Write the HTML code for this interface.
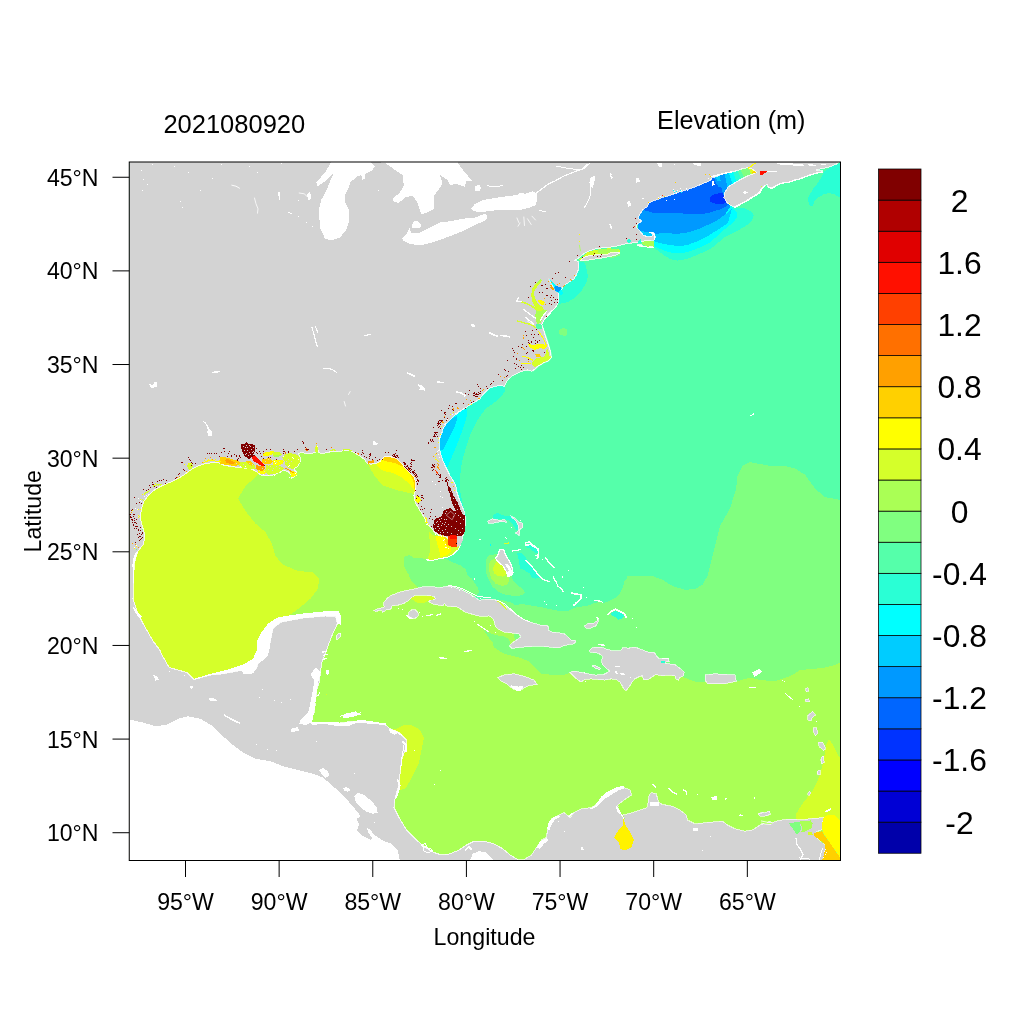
<!DOCTYPE html>
<html><head><meta charset="utf-8"><title>Elevation map</title>
<style>
html,body{margin:0;padding:0;background:#fff;}
body{width:1024px;height:1024px;overflow:hidden;font-family:"Liberation Sans",sans-serif;}
svg{display:block;font-family:"Liberation Sans",sans-serif;}
text{filter:grayscale(1);}
.ax line{stroke:#000;stroke-width:1;}
.ax text{font-size:23.1px;fill:#000;}
</style></head><body>
<svg width="1024" height="1024" viewBox="0 0 1024 1024">
<rect width="1024" height="1024" fill="#fff"/>
<defs>
<clipPath id="plot"><rect x="129.25" y="162" width="711.25" height="698.5"/></clipPath>

</defs>
<g clip-path="url(#plot)" shape-rendering="crispEdges">
<rect x="129" y="162" width="712" height="699" fill="#55FFAA"/>
<path fill="#80FF80" d="M842.5 500.2 825 497.2 815 488.5 805 474.8 795 468.5 785 466 770 466 757.5 463.5 750 462.2 742.5 466 737.5 476 736.2 488.5 730 508.5 720 526 716.2 541 711.2 561 707.5 576 702.5 584.8 695 589 685 589.8 672.5 586 662.5 579.8 652.5 576 627.5 576 627 577.8 624.5 581.5 622.6 587.8 619.5 594 615.8 597.8 609.5 600.9 604.5 602.8 599.5 602.1 594.5 602.8 589.5 605.2 582 606.5 574.5 607.8 567 611.5 559.5 610.9 552 609.6 544.5 607.8 537 606.5 529.5 605.2 522 604 514.5 605.2 512 602.8 502.8 600.2 496.5 599.6 490.2 598.8 484 599 479 600.5 484 606.5 512 625.2 471.5 619 459 631.5 459 694 459 900 850 900 850 500Z"/>
<path fill="#AAFF55" d="M842.5 661.2 835 665 825 667.5 815 668.8 800 670 792.5 675 782.5 678.8 775 681.2 760 680 750 677.5 737.5 681.2 736.2 682 725 680 707.5 680 705 681.5 695 681.5 683.8 677.5 675 672.5 650 670 625 670 600 677.5 596.5 677.5 574 675 570.2 672.5 564 675 554 675 541.5 673.8 536.5 668.8 529 661.2 519 657.5 504 653.8 494 647.5 494 647.8 492.8 642.8 487.8 636.5 484 630.2 490.2 633.4 496.5 635.2 504 636.5 509 639 510.2 644 515.8 644 512 625.2 496.5 614 484 607.8 471.5 604 459 597.8 446.5 594 434 591.5 421.5 590.2 419 588 415.2 585.2 410.9 580.2 408.4 574 404.6 567.8 404 561.5 404.6 556.5 409 555.2 414 557.8 421.5 557.8 426.5 559.6 434 559 439 557.8 446.5 541 440.2 528.5 427.8 516 421.5 497.2 421.5 478.5 409 466 396.5 453.5 384 447.2 368.5 447.2 318.5 447.2 256 447.2 190.5 453.5 128 478.5 100 500 100 900 900 900Z"/>
<path fill="#D5FF2A" d="M258 474.8 245.5 486 238 498.5 245.5 511 255.5 523.5 265.5 532.2 271.8 543.5 275.5 556 283 564.8 298 571 313 572.2 319.2 578.5 318 588.5 310.5 598.5 300.5 607.2 291.8 613.5 288 616 278 631 268 666 268 716 125.5 716 125.5 441 203 441 253 453.5Z"/>
<path fill="#2AFFD5" d="M653.8 247.5 658.8 251.2 665 256.2 671.2 259.4 677.5 260.6 685 259.4 692.5 256.9 702.5 252.5 712.5 247.5 724.5 237.5 737 231.2 747 225 752 220 753.9 215 750.8 211.2 744.5 208.1 735.1 207.5 725 191.2 712.5 172.5 637.5 197.5 637.5 241.2Z"/>
<path fill="#2AFFD5" d="M842 161.2 838.9 163.8 832 166.2 824.5 171.2 822 176.2 818.2 182.5 813.2 188.8 809.5 195 807.6 198.8 808.9 203.8 810.8 206.5 813.2 205.6 813.9 201.2 818.2 197.5 824.5 193.8 829.5 193.1 834.5 194.4 838.9 196.9 842 197.5Z"/>
<path fill="#2AFFD5" d="M579 261.5 585 262.8 586.2 267.8 588.1 276.5 586.2 282.8 581.2 291.5 575 297.8 567.5 302.1 558.8 304 555 299 560 286.5 575 274 575 261.5Z"/>
<path fill="#80FF80" d="M559.4 330.2 562.5 328 566.9 329 567.5 334 565 335.9 561.2 335.2 559 333.4Z"/>
<path fill="#2AFFD5" d="M504.4 386.2 505.6 390 502.5 395 497.5 400 492.5 403.8 487.5 407.5 483.8 411.2 480 416.4 476 422.9 470.4 434.2 465.7 448.2 461.9 462.3 460.1 476.4 459.6 488 460.2 491 462.1 501 464 508.5 465.9 516 459 516 446.5 478.5 434 441 434 403.5 452.5 407.5 477.5 388.8 500 382.5Z"/>
<path fill="#00FFFF" d="M653.8 246.2 660 248.8 667.5 251.9 675 253.1 682.5 253.1 690 251.2 700 247.5 710 242.5 724.5 229.4 733.2 222.5 737.6 216.2 737 212.5 732 207.5 725 191.2 712.5 172.5 637.5 197.5 637.5 241.2Z"/>
<path fill="#00FFFF" d="M467.4 409.4 466.6 416.4 464.7 423.9 461 434.2 456.3 446.4 451.6 457.6 447.9 466.1 445.8 468.7 434.7 467 434.7 410.7 453.5 406.1Z"/>
<path fill="#00CCFF" d="M653.8 241.2 660 243.1 670 245 680 246.2 687.5 245 697.5 241.2 707.5 236.2 717.5 230 728 223.1 730.8 212.5 732 208.1 719.5 222.5 725.8 217.5 725 191.2 712.5 172.5 637.5 197.5 637.5 237.5Z"/>
<path fill="#00CCFF" d="M457.2 416 456.8 420.1 454.4 427.6 450.7 434.2 446.9 442.6 443.2 449.2 440.8 450.8 438.5 444.5 439.4 436.1 443.2 428.1 449.7 419.7Z"/>
<path fill="#0099FF" d="M655 233.8 665 233.1 677.5 233.8 687.5 232.5 697.5 229.4 707.5 225 717.5 220 724.5 215 728.2 210 730 206.9 725 191.2 712.5 172.5 637.5 197.5 637.5 230Z"/>
<path fill="#0066FF" d="M643.1 210 652.5 212.5 665 213.1 677.5 213.1 687.5 213.8 700 214.4 710 212.5 720 209.4 724.5 207.5 727.5 205 728.8 202.5 725 191.2 712.5 172.5 637.5 197.5Z"/>
<path fill="#0033FF" d="M728 192.5 720 193.1 712.5 195 709.4 198.1 710.6 201.9 716.2 203.8 722.5 203.8 727 203.1 727 198.8 724.5 194.4Z"/>
<path fill="#0099FF" d="M717.5 181.2 725 180 732.5 181.2 737.5 183.8 732.5 186.9 725 188.1 718.8 186.9 716.2 183.8 712.5 172.5 737.5 172.5Z"/>
<path fill="#00CCFF" d="M715 176.2 728 172.5 732.5 175 730 178.8 723.8 180.6 717.5 181 712.5 172.5Z"/>
<path fill="#0099FF" d="M719.5 172.5 724.5 171.2 728.2 190 724.5 197.5 722 191.2Z"/>
<path fill="#00CCFF" d="M723.9 171.9 728.9 170.6 733.9 185 728.2 189.4Z"/>
<path fill="#80FF80" d="M404.6 556.5 409 555.2 414 557.8 421.5 557.8 426.5 559.6 434 559 439 558.4 446.5 559 454 562.8 461.5 565.9 465.9 569.6 467.1 575.2 471.5 578.4 475.2 584 477.8 587.8 479 592.1 477.1 594 474 597.1 459 594 434 591.5 419 588.4 415.2 585.2 410.9 580.2 408.4 574 404.6 567.8 404 561.5Z"/>
<path fill="#80FF80" d="M485.5 559.8 489.2 555.4 495.5 554.1 500.5 554.8 508 566 511.8 576 513 581 518 585.4 523 589.1 524.9 592.9 521.8 595.4 514.2 596 505.5 594.8 498 591.6 491.8 586 488 578.5 485.5 571Z"/>
<path fill="#2AFFD5" d="M517.4 553.5 521.8 552.9 525.5 557.2 528 562.2 533 568.5 538 574.8 535.5 577.2 531.8 578.5 530.5 573.5 525.5 571 520.5 568.5 519.2 561Z"/>
<path fill="#00FFFF" d="M728.2 170.6 732.6 170 737.6 182.5 733.2 185.6Z"/>
<path fill="#2AFFD5" d="M732.2 170 737 168.8 742 180 737.2 183.1Z"/>
<path fill="#55FFAA" d="M736.8 168.8 740.1 168.1 745.1 178.8 741.8 180.6Z"/>
<path fill="#80FF80" d="M739.8 168.1 748.2 166.2 752 176.2 744.8 179.4Z"/>
<path fill="#D5FF2A" d="M748 166.2 750.8 165.6 754.5 175 751.8 176.5Z"/>
<path fill="#FFFF00" d="M750.5 165.6 757 161.9 758.9 173.8 754.2 175.2Z"/>
<path fill="#AAFF55" d="M489.2 563.5 491.1 559.8 496.1 559.1 503 562.2 509.2 576.6 509.2 581 506.8 584.8 501.8 586 495.5 583.5 491.1 578.5 489.2 571Z"/>
<path fill="#D5FF2A" d="M384 486 391.5 488.5 400.2 491 409 492.9 414 493.8 421.5 491 421.5 453.5 384 453.5 368.5 453.5 366.6 463.5 368.5 465.4 371 469.8 374.8 476 379.8 482.2Z"/>
<path fill="#D5FF2A" d="M396.5 728.8 402.8 725.5 411.5 725 420.2 730 424 737.5 421.5 750 419 762.5 414 772.5 409 782.5 405.2 788.8 400.2 790 389 790 389 728.8Z"/>
<path fill="#D5FF2A" d="M828.9 739.1 832 743.5 835.8 751 838.9 757.2 842 758.5 842 823.5 796.4 822.2 796.4 813.5 799.5 808.5 804.5 801 810.8 793.5 815.8 784.8 819.5 776 822 767.2 823.9 758.5 825.1 752.2 825.8 746Z"/>
<path fill="#D5FF2A" d="M429.1 532 434.7 536.2 444.1 536.2 453.5 540.9 460.1 545.6 458.2 549.6 453.5 554.2 446.9 557.5 439.4 558.7 432.9 560.4 427.2 559.9 430.1 551.2 429.6 540.9Z"/>
<path fill="#FFFF00" d="M384 471 392.8 472.9 401.5 477.2 409 483.5 414.4 490.6 421.5 489.8 421.5 453.5 384 453.5 374.8 453.5 376 463.2 377.9 466.6 381 469.8Z"/>
<path fill="#FFFF00" d="M823.9 817.2 827 815.4 834.5 815 838.2 818.5 842 823.5 842 861 837 852.9 832 846 827 838.5 822.6 831.6 822 823.5Z"/>
<path fill="#FFFF00" d="M435.2 536.2 444.1 536.2 447.9 540 448.8 545.6 451.6 550.3 448.8 554.1 444.1 556.4 440.2 557.1 439.4 551.2 437.1 543.7Z"/>
<path fill="#FFD000" d="M384 461.2 390.2 461.9 396.5 463.8 402.8 466.6 407.8 471 410.9 475.4 413.4 481 414.6 489.8 421.5 489.8 421.5 453.5 384 453.5Z"/>
<path fill="#FFD000" d="M444.1 536.7 447.9 540 449 545.8 446.9 545.8 445.1 540.9Z"/>
<path fill="#D5FF2A" d="M493 568.5 494.9 563.5 498 561 501.8 564.8 505.5 569.8 506.8 574.1 503 576.6 498 576 494.2 573.5Z"/>
<path fill="#AAFF55" d="M641.9 241.5 653.8 240.8 654.2 246.2 652.5 247.8 647.5 246.8 642.5 244Z"/>
<path fill="#D5FF2A" d="M582.5 256.8 586.2 253 592.5 250.5 600 249 608.8 248.4 616.2 248.8 620.2 249.8 619.8 253 612.5 256 605 257.8 595 259.2 587.5 260.2 581.2 261.2 578.8 259.6Z"/>
<path fill="#AAFF55" d="M597.5 249.6 603.8 248.5 610 248.5 616.2 249 620 250 617.5 251.8 610 252.5 606.2 254 600 253.8 597.5 252.1Z"/>
<path fill="#80FF80" d="M608.8 256.8 612.5 256 616.9 254.8 619.8 253.5 620.5 255.2 616.2 257 611.2 258Z"/>
<path fill="#2AFFD5" d="M610.8 612.8 615.8 610.9 620.8 612.8 624.5 615.2 622 619 618.2 619.6 614.5 616.5 611.4 615.2Z"/>
<path fill="#2AFFD5" d="M517 554 522 553.4 525.8 557.8 530.8 565.2 537 574 533.2 577.8 530.8 576.5 529.5 571.5 524.5 570.2 520.1 566.5 519.5 560.2Z"/>
<path fill="#2AFFD5" d="M525.1 545.5 530.8 545 537 548.8 538.5 551.8 535.8 551.5 532 549 527 547.8Z"/>
<path fill="#2AFFD5" d="M492.5 515 497.5 513.1 503.8 515.6 511.2 516.2 515 520 517.5 525 518.1 530 515.6 529.4 512.5 523.8 508.8 520.6 505 518.8 498.8 519.4 493.8 518.8Z"/>
<path fill="#2AFFD5" d="M527.5 544.4 532.5 546.2 537.5 550.6 538.1 553.1 535 552.5 530 548.8 526.9 546.2Z"/>
<path fill="#2AFFD5" d="M517.5 553.8 521.2 553.1 525 558.8 530 565 535 571.2 540 577.5 535 578.8 530 573.8 523.8 570 520 568 518.8 560Z"/>
<path fill="#D3D3D3" stroke="#fff" stroke-width="1" stroke-opacity="0.8" d="M844.5 155 838.2 162.5 837 163.8 832 166 827 167.5 820.8 168.8 815.8 170.2 822.6 171 822 171.9 815.8 173.1 809.5 175 804.5 176.9 799.5 178.8 794.5 180 789.5 181.9 784.5 182.5 779.5 183.8 775.8 185.6 772 188.1 768.2 186.9 767 184.4 764.5 185.6 761.4 188.8 759.5 192.5 754.5 195.6 749.5 198.8 744.5 201.9 739.5 204.4 735.1 206.9 730.8 205.6 727 202.5 723.9 197.5 724.5 193.1 728.2 186.9 733.2 183.8 739.5 180 747 176.2 753.2 173.8 756.4 172.1 752.6 169.4 748.2 167.5 742 168.8 737 170.6 732 171.9 727 172.5 719.5 174.4 712 176.2 720 175.6 712.5 177.5 710 180.6 702.5 183.8 695 186.9 687.5 189.4 682.5 191.2 677.5 192.5 672.5 194.4 667.5 196.2 662.5 197.5 657.5 199.4 652.5 201.2 648.8 203.1 646.9 206.9 643.1 209.4 640 213.8 638.1 218.1 641.9 221.2 637.5 223.8 636.2 227.5 640 231.2 643.1 235 647.5 236.9 651.9 236.2 653.1 233.8 650 232.2 654 233.1 655.2 236.9 654.4 240 650 240.6 643.8 241 641.2 241.9 637.5 242.5 631.2 243.1 626.2 243.8 616.2 246.2 607.5 247.5 600 248.1 595 249 587.5 251.5 582.5 254.6 578.8 257.8 575 260.2 578.1 261.5 579 265.2 578.1 270.2 576.2 275.2 573.8 279 570 281.5 566.2 284 562.5 287.8 561 290.2 558.8 293.4 558.8 299 557.8 304 555 307.8 551.2 311.5 547.5 315.2 543.8 320.2 541.9 324 541.9 328.8 542.5 326.2 544.4 332.5 546.2 338.8 548.8 346.2 550.6 352.5 551.2 357.5 548.8 360.6 543.8 362.5 538.8 365.6 535 368.8 531.9 371.2 527.5 370 522.5 371.2 517.5 373.1 512.5 375.6 508.8 378.8 506.2 382.5 504.4 386.2 500 385.6 495 386.2 490 388.1 486.2 391.2 482.5 395 480 398.8 475 401.9 470 405 465 408.1 461.2 410.6 457.5 413.1 453.8 416.2 450 420 446.2 423.8 443.1 428.8 441.2 433.8 440 437.5 442.8 431 439.6 438.5 439 446 440.2 452.2 442.1 458.5 444.6 464.8 447.8 471 450.2 476 453.4 481 455.9 486 456.5 491 459 498.5 461.5 504.8 464 511 465.2 517.2 465.2 524.8 464 532.2 462.1 538.5 459 544 454 546 449 544 447.8 537.9 445.2 536.6 440.2 535.4 435.2 532.9 432.1 529.1 427.1 523.5 424 517.2 420.2 511 415.9 503.5 414 497.2 415 492.2 415.9 487.2 415.9 482.2 414 477.2 410.2 473.5 405.9 468.5 401.5 463.5 396.5 458.5 390.2 456.6 384 457 379.8 461.6 376 463.5 371 464.1 367.2 463.5 364.8 459.8 359.8 456 354.8 452.9 351 451 343.5 450.8 337.2 451.6 331 451.6 326 452.9 321 453.5 318.5 452.2 317.2 446 315.8 452.2 311 453.5 306 453.5 301 452.2 301.8 452.1 298.1 454 300.1 456.8 300.4 461.5 298.1 466.2 293.8 469 296.2 471.8 297.1 475.1 294.3 476.5 291.5 478.2 291 475.1 288.7 472 284 470.1 278.4 472.9 272.7 475.3 266.2 475.7 261.5 475.3 256.8 472 252.1 469.2 242.7 467.8 235.2 467.1 229.6 466.2 224 465.2 218 462.5 210.5 462.9 203 464.1 198 466 193 468.5 189.2 471 184.2 474.8 178 478.5 171.8 481.6 165.5 484.1 159.2 487.2 153 491 148 496 144.2 501 141.8 507.2 140.5 514.8 141.1 522.2 143 528.5 144.9 534.8 143.6 544 138 551.2 135.8 557.8 134.2 564.5 133.8 576 133 598.5 136.8 611 143 623.5 153 641 160.5 651 160.5 652.5 169.2 667.5 178 670 186.8 672.5 194.2 679.5 210.5 675 223 673.8 240.5 670.5 248 673 255.5 670.5 258 663.8 265.5 657.5 269.2 647.5 270.5 640 270.5 641 273 628.5 280.5 622.2 303 618 325.5 616 335.5 616 337.5 623.5 331.8 636 328 646 325.5 653.5 321.8 662.2 320.5 672 319.2 682.5 316.8 690 315.5 702.5 314.2 712.5 309.2 722.5 323 723.8 340.5 723 353 721.2 368 722.5 384 723.8 390.2 728.8 399 732.5 406.5 740 405.2 750 401.5 760 400.2 772.5 399 785 395.2 797.5 394 807.5 399 817.5 406.5 830 416.5 840 425.2 847.5 434 852.5 441.5 855 450.2 853.8 459 850 466.5 845 474 841.2 484 841.2 494 843.8 502.8 848.8 510.2 855 517.8 859.5 521.5 865 520 900 100 900 100 100 900 100Z"/>
<path fill="#D3D3D3" stroke="#fff" stroke-width="1" stroke-opacity="0.65" d="M517.8 859.5 524 859.5 531.5 855 536.5 847.5 541.5 840 546.5 837.5 547.8 827.5 551.5 818.8 559 815 564 812.5 570.2 817.5 574 812.5 581.5 808.8 591.5 807.5 599 802.5 606.5 795 614 790 624 787.5 630.2 790 631.5 795 624 800 617.8 805 619 810 624 815 632.5 812.5 647.5 807.5 648.8 796.2 651.2 792.5 656.2 793.8 658.8 802.5 662.5 804.5 672.5 806.2 680 810 686.2 815 687.5 820 695 823.8 707.5 822.5 722.5 821.2 727.5 825 735 828.8 745 831.2 752.5 830 760 825 770 821.2 772 822.9 777 821 783.2 819.8 789.5 819.1 797 819.5 804.5 819.5 812 818.5 820.8 817.9 823.9 817.2 822.6 823.5 822.2 829.5 817 831.6 818.2 839.8 824.5 844.8 825.1 848.5 823.9 854.8 822 861 822 873.5 587 873.5 509 890Z"/>
<path fill="#D3D3D3" stroke="#fff" stroke-width="1" stroke-opacity="0.65" d="M384 602.1 387.8 597.8 391.5 595.2 397.8 592.8 404 590.9 411.5 589.6 419 587.8 424 586.5 434 586.8 437.8 587.8 442.8 587.1 449 585.9 454 587.1 459 589 464 590.9 469 593.4 474 596.5 479 600.2 484 599.6 490.2 599 496.5 600.2 502.8 604 509 609 512 610.9 517 615.2 522 618.4 528.2 621.5 534.5 623.4 540.8 625.2 546.4 625.2 548.9 627.1 548.2 630.2 552 632.1 559.5 632.8 564.5 634 568.2 637.1 571.4 640.2 575.1 640.2 575.8 642.1 573.2 644 568.2 644.6 563.2 645.9 558.9 647.8 553.2 647.5 547 646.8 540.8 646.2 532 646.5 522 647.1 512 648.4 509.5 645.9 512 643 517 639.6 521 636.8 518.9 633.8 512 633 504 632.1 499 629.6 495.2 626.5 494.6 622.8 492.8 618.4 489 615.9 484 616.5 477.8 615.9 471.5 614 465.2 612.1 461.5 609.6 457.8 607.1 451.5 606.5 445.9 605.9 444.6 603.4 442.8 605.9 439 605.2 432.8 604 427.8 600.9 435.2 599 434 596.5 425.2 595.2 415.2 595.5 410.9 598.4 409 600.2 404 603.4 397.8 605.2 392.1 605.9 391.4 608.5 389.5 609.8 385.8 610 384.5 611.2 382.6 612.2 381.8 610 378.9 610.6 375.5 611.6 373.9 610.4 377 609.1 381.4 607.9 384.5 606.9 383.6 604.8Z"/>
<path fill="#D3D3D3" stroke="#fff" stroke-width="1" stroke-opacity="0.65" d="M409 612.1 411.5 610 415.2 609.9 417.8 612.1 418.4 615.2 416.5 617.8 412.8 618.6 409.6 617.1 408.4 614.6Z"/>
<path fill="#D3D3D3" stroke="#fff" stroke-width="1" stroke-opacity="0.65" d="M589.1 650.8 592.2 647.6 601 647 606 648.9 612.2 650.8 620.4 650.8 622.9 647.6 628.5 648.2 634.8 647 639.8 648.9 644.8 650.8 649.8 652.6 654.1 652 656.6 656.4 659.8 658.9 668.5 658.9 669.1 661.4 663.5 662.6 668.5 663.9 674.8 664.5 679.8 668.2 684.1 672 683.5 675.8 679.8 677.6 678.5 680.1 676 678.9 674.8 675.8 668.5 675.1 662.2 675.8 656 674.5 651 677.6 648.5 679.5 643.5 679.5 642.2 675.8 638.5 677 634.8 678.9 632.2 682 629.1 687 626 690.8 624.1 689.5 622.2 685.8 619.8 682 616 679.5 611 678.9 604.8 680.1 598.5 679.5 591 678.9 584.8 679.5 581 682 576 678.5 572.2 674.5 570 672.6 572.2 671.4 576 671.4 582.2 672.6 588.5 673.9 596 675.1 603.5 674.5 607.2 672.6 609.8 670.8 606 668.2 602.2 664.5 601.6 660.8 602.9 656.4 598.5 653.2 593.5 652.6 589.8 652Z"/>
<path fill="#D3D3D3" stroke="#fff" stroke-width="0.8" d="M592.2 665.8 596 665.8 600.4 668.2 599.8 669.5 594.8 668.2Z"/>
<path fill="#D3D3D3" stroke="#fff" stroke-width="1" stroke-opacity="0.65" d="M705 675 715 673.8 735 675 736.2 681.2 725 683.8 707.5 683.8 705 680Z"/>
<path fill="#D3D3D3" stroke="#fff" stroke-width="1" stroke-opacity="0.65" d="M497.8 677.5 504 675 514 673.8 524 676.2 534 680 537 684.5 529 685.5 522.8 688.8 519 690.8 512.8 688.8 506.5 683.8 500.2 680.5Z"/>
<path fill="#D3D3D3" stroke="#fff" stroke-width="1" stroke-opacity="0.65" d="M584.5 625.9 588.2 623.4 593.2 623.4 597 620.9 597.6 617.8 598.5 621.5 595.8 625.9 590.8 628 585.8 628Z"/>
<path fill="#D3D3D3" stroke="#fff" stroke-width="1.2" d="M499.9 549.1 503.6 549.1 505.5 554.8 508.6 559.8 511.8 566 513 572.2 511.8 575.6 508 576.2 506.1 571 503 566 498 561.6 495.5 558.5 498 554.8Z"/>
<path fill="#D3D3D3" stroke="#fff" stroke-width="1" stroke-opacity="0.65" d="M487.5 521.2 492.5 518.8 498.8 520.2 505 519.8 506.9 522.5 502.5 521.5 497.5 522.2 492.5 523.5 488.8 523.1Z"/>
<path fill="#D3D3D3" stroke="#fff" stroke-width="1" stroke-opacity="0.65" d="M511.2 516.2 515 518.1 518.8 521.9 522.5 523.1 522.5 527.5 520 529.4 519.4 535.6 515.6 533.1 518.8 530 518.1 525 515.6 520.6 511.9 517.5Z"/>
<path fill="#D3D3D3" stroke="#fff" stroke-width="0.5" d="M818.2 742.2 822 742.2 824.5 746 825.1 749.8 821.4 748.5 819.5 745.4Z"/>
<path fill="#D3D3D3" stroke="#fff" stroke-width="0.5" d="M821.4 757.2 823.2 756 823.9 761 822 763.5 820.8 760.4Z"/>
<path fill="#D3D3D3" stroke="#fff" stroke-width="0.5" d="M817 771.6 819.5 770.4 819.8 773.5 817.6 774.1Z"/>
<path fill="#D3D3D3" stroke="#fff" stroke-width="0.5" d="M807.6 793.5 809.5 791 811 792.9 808.9 795.8Z"/>
<path fill="#D3D3D3" stroke="#fff" stroke-width="0.5" d="M758.2 814.1 762 812.2 765.8 813.5 768.2 811 769.5 813.5 767 816 762 815.4Z"/>
<path fill="#D3D3D3" stroke="#fff" stroke-width="0.6" d="M805.5 688 808 687.5 808.8 691.2 806.2 691.8Z"/>
<path fill="#D3D3D3" stroke="#fff" stroke-width="0.6" d="M805 699.5 808.8 698.8 809.5 701.5 806 702Z"/>
<path fill="#D3D3D3" stroke="#fff" stroke-width="0.6" d="M807.5 715 812.5 711.2 815.5 715 812 718 811.2 721.2 808 720Z"/>
<path fill="#D3D3D3" stroke="#fff" stroke-width="0.6" d="M813 728 816.5 727.5 818 733 815.5 735.5 813.5 732Z"/>
<path fill="#D3D3D3" stroke="#fff" stroke-width="0.6" d="M818 742.5 822.5 742 825.5 748 823.8 750.5 820 747.5Z"/>
<path fill="#D3D3D3" stroke="#fff" stroke-width="0.6" d="M821 757.5 823.5 756.2 824.2 762.5 821.8 763.8Z"/>
<path fill="#D3D3D3" stroke="#fff" stroke-width="0.6" d="M817.5 770.5 820 770 820 774.5 818 775Z"/>
<path fill="#D3D3D3" stroke="#fff" stroke-width="0.6" d="M758 813.8 765 812.5 769.5 811 770.5 814 765 816 760 816.2Z"/>
<path fill="#D3D3D3" stroke="#fff" stroke-width="0.8" d="M336 636.5 338 633.9 340.7 633.4 340.4 636.5 337.2 639.7Z"/>
<path fill="#D3D3D3" stroke="#fff" stroke-width="0.8" d="M580 260.5 582.5 257.5 587.5 255.8 595 254.9 606.2 254.9 610 253 617.5 252 619.8 253 616.2 254.6 612.5 255.9 605 257.5 595 259 587.5 260 581.2 261Z"/>
<path fill="#D3D3D3" stroke="#fff" stroke-width="0.8" d="M637.5 244 641.9 244.8 643.1 246.2 638.8 246.2Z"/>
<path fill="#D3D3D3" stroke="#fff" stroke-width="0.8" d="M649.4 246.2 653.1 246.9 653.5 248 650 247.5Z"/>
<path fill="#0099FF" d="M553.8 286.5 556.9 286.2 560.6 287.1 561.5 289.6 558.8 292.1 555.6 290.9Z"/>
<path fill="#00FFFF" d="M558.1 292.1 561.9 290.2 563.1 294 560 295Z"/>
<path fill="#FFA000" d="M550 285.2 552.5 286.5 554.4 290.2 552.5 289.6Z"/>
<path fill="#FFF200" d="M623.5 818 625.2 825 630.2 832.5 634 840 631.5 847.5 624 850.5 620.2 848.8 619 842.5 614 837.5 617.8 831.2 622.8 826.2Z"/>
<path fill="none" stroke="#AAFF55" stroke-width="1.5" stroke-linejoin="round" stroke-linecap="round" d="M619 807.5 621.5 812.5 624 818.8"/>
<path fill="#80FF80" d="M788.2 822.9 799.5 822.2 801.4 828.5 799.5 832.2 797 834.8 793.2 829.1 790.8 826Z"/>
<path fill="#AAFF55" d="M799.5 821.6 810.8 820.4 812.6 823.5 812 827.9 805.1 831.6 801.4 832.2 801.8 827.2Z"/>
<path fill="#D5FF2A" d="M807.6 832.2 812 831.6 812.6 834.8 808.9 836Z"/>
<path fill="#FFD000" d="M813.9 832.9 822 831.2 824.5 836 829.5 842.2 833.9 849.1 838.2 854.8 842 858.5 842 861 828.2 861 825.8 856 826.4 848.5 824.5 843.5 819.5 839.8 814.5 836Z"/>
<path fill="#FFFF00" d="M822 823.5 822.6 831.6 827 838.5 832 846 837 852.9 842 861 842 822.2 838.2 818.5 834.5 815 827 815.4 823.9 817.2Z"/>
<path fill="#AAFF55" d="M761.4 821.2 767 822.5 772 823.1 770.8 824.2 765.8 823.9 761.4 823Z"/>
<path fill="#FFD000" d="M824.5 844.1 827 848.5 826.4 856 828.9 861.6 821.4 861.6 823.6 854.8 824.9 848.5Z"/>
<path fill="#2AFFD5" d="M626.9 240 630 238.8 631.2 241.9 628.1 243.1Z"/>
<path fill="#2AFFD5" d="M637.5 241.2 640.6 239.4 641.2 242.5 638.1 244Z"/>
<path fill="#00FFFF" d="M562.5 288 561 290.2 559 293 556.9 292.1 555 290.2 553.8 287.1 551.2 283.4 549 279.2 550.6 280 553.8 283.8 557.5 286.2 561.2 287.5Z"/>
<path fill="#55FFAA" d="M536 324 541.9 324 542.2 329 536.2 328.4Z"/>
<path fill="#AAFF55" d="M535.6 310.2 541.2 310 547.2 310 546.2 313 543.1 316.8 540.6 322.8 537.5 324.2 535.4 319.2Z"/>
<path fill="#D5FF2A" d="M531.2 295.2 533.5 293.4 535.6 299 537.8 304 541.9 306.5 544.8 310.2 537.5 311.1 534.4 305.5 532 300.5Z"/>
<path fill="#D5FF2A" d="M540 280.5 542 279.9 540.8 283 537.1 286.8 534.2 291.5 533.5 294.2 531.2 295.5 531.9 289.2 535.6 283.6Z"/>
<path fill="none" stroke="#AAFF55" stroke-width="1.5" stroke-linejoin="round" stroke-linecap="round" d="M537.5 282.8 540.6 280.2"/>
<path fill="#FFFF00" d="M536.9 299.6 541.2 300.2 544.6 302.1 544 305.5 540 304.2Z"/>
<path fill="none" stroke="#D5FF2A" stroke-width="1.6" stroke-linejoin="round" stroke-linecap="round" d="M521.2 301.8 527.5 304 532.5 306.5 536 309.2"/>
<path fill="none" stroke="#FFFFFF" stroke-width="1.2" stroke-linejoin="round" stroke-linecap="round" d="M516.5 301.2 518.8 297.1"/>
<path fill="none" stroke="#FFFFFF" stroke-width="1.2" stroke-linejoin="round" stroke-linecap="round" d="M516.2 300.9 521.5 301.8"/>
<path fill="none" stroke="#FFFFFF" stroke-width="1.2" stroke-linejoin="round" stroke-linecap="round" d="M523.8 309.4 528.8 313.4 535.2 318"/>
<path fill="none" stroke="#FFFFFF" stroke-width="1.2" stroke-linejoin="round" stroke-linecap="round" d="M525 317.1 530 320.9 534 324.2"/>
<path fill="none" stroke="#D5FF2A" stroke-width="1.3" stroke-linejoin="round" stroke-linecap="round" d="M517.5 320.9 523.8 322.8 530 324.2 535.2 327.2"/>
<path fill="none" stroke="#FFFFFF" stroke-width="1" stroke-linejoin="round" stroke-linecap="round" d="M540.6 320.2 542.5 316.5 546.5 311.5"/>
<path fill="none" stroke="#FFFFFF" stroke-width="1" stroke-linejoin="round" stroke-linecap="round" d="M541.9 324.6 544 320.2 550 313.4 556.9 305.9"/>
<path fill="#FFD000" d="M220.3 456.8 224 457.3 227.7 457.7 232.4 459.2 237.1 460.6 239.9 462.4 239 465.2 233.4 465.9 227.7 465.1 224 464.5 220.3 463.8Z"/>
<path fill="#D5FF2A" d="M239.9 462.4 245.6 461.5 251.2 462.4 254.9 465.2 255.9 469 252.1 469.2 242.7 467.8 239 465.7Z"/>
<path fill="#FFD000" d="M245.6 461 249.3 460.7 252.1 462.4 254 465.2 251.2 465.7 247.4 463.4Z"/>
<path fill="#FF1000" d="M251.7 456.3 254.9 455.9 257.7 458.7 260.6 461.5 264.3 464.3 265.2 466.2 261.5 465.9 257.7 463.6 254 461.2 252.1 458.9Z"/>
<path fill="#FFA000" d="M255.9 465.2 261.5 465.9 265.2 466.7 264.3 469.9 261.5 471.1 257.7 470.1 255.9 468.1Z"/>
<path fill="#FFFF00" d="M257.7 470.1 261.5 471.1 264.3 469.9 266.2 470.9 265.2 473.7 261.5 474.2 257.7 472.3Z"/>
<path fill="#FFD000" d="M261.5 459.6 265.2 458.7 269.9 458.2 272.7 461.5 270.9 464.3 266.2 464.5 262.4 462.6Z"/>
<path fill="#FFFF00" d="M263.4 453.1 268.1 451.7 273.7 451.2 271.8 454.9 266.2 456.3 263.4 455.9Z"/>
<path fill="#FFFF00" d="M272.7 460.6 278.4 459.6 284 460.6 282.1 464.3 276.5 465.4 272.7 464.3Z"/>
<path fill="#D5FF2A" d="M271.8 453.1 275.6 451.7 280.2 452.6 282.3 454.9 278.4 456.5 273.7 456.5Z"/>
<path fill="#D5FF2A" d="M284 454.9 289.6 453.1 295.2 454 299.9 456.8 300.4 461.5 297.1 466.2 293.4 469 288.7 468.1 284.9 465.2 284.9 461.5 282.1 457.7Z"/>
<path fill="#D5FF2A" d="M266.2 465.2 272.7 464.8 280.2 465.7 284 468.1 280.2 471.8 274.6 474.2 268.1 474.6 265.2 470.9Z"/>
<path fill="#FFFF00" d="M289.6 470.9 293.4 471.3 296.7 472.7 296.9 475.1 294.3 476.5 291.7 477.9 291 475.1Z"/>
<path fill="#800000" d="M241.3 444.2 244.2 443.9 246.5 442.3 248.4 444.2 252.1 443.9 254.9 445.6 255.4 449.3 254 453.1 254.9 455.9 252.1 456.8 249.3 459.2 247 457.7 244.2 456.3 242.7 452.1 241.3 448.4Z"/>
<path fill="#D5FF2A" d="M314.7 452.1 315.4 447.4 316.3 445.1 317.6 447.4 318.2 452.1Z"/>
<path fill="#800000" d="M443.2 510.9 446.9 509.1 450.7 508.1 453.5 510.9 457.2 510.9 461 512.8 464.7 515.6 465.4 525 464.3 533.4 461.9 536.2 457.2 536.4 449.7 535.5 444.1 535.5 438.5 533.6 434.7 531.3 433.3 526.9 433.8 521.2 435.7 518.4 439.4 517.5 442.2 515.6Z"/>
<path fill="#800000" d="M447.9 485.6 450.7 488.4 453.5 495.9 457.2 501.6 460.1 508.1 461.2 513 457.2 512.1 454.4 508.1 451.6 501.6 449.7 494.1 448.3 489.4Z"/>
<path fill="#FF4000" d="M447.9 535.9 457.2 536.4 457.2 546.7 451.6 546.9 448.3 544.9Z"/>
<path fill="#2AFFD5" d="M661 660.8 665.4 660.8 665.4 662.6 661.2 662.8Z"/>
<path fill="#D5FF2A" d="M410.9 598.4 415.2 595.8 425.2 595.5 434 596.8 435 599 427.8 600.9 422.8 603.4 417.8 602.8 414 600.9Z"/>
<path fill="#FF1000" d="M759.8 171.5 767 171 765.8 172.5 762.6 174.8 759.5 174.4Z"/>
<path fill="#FFD000" d="M753 171 756.5 171.8 755.2 173.2 752.2 172.5Z"/>
<path fill="none" stroke="#FFFF00" stroke-width="1.2" stroke-linejoin="round" stroke-linecap="round" d="M755.1 163.1 752 165.6 748.5 167.9"/>
<path fill="#D5FF2A" d="M532.5 362.5 535 358.8 540 357.5 545 356.2 546.2 350 547.8 347.8 550 352.5 550.8 357.5 548.2 360.6 543.2 362.5 538.2 365.6 535 367.1 532 365Z"/>
<path fill="#FFFF00" d="M527.5 343.8 533.8 345 540 343.8 546.2 345 545.2 349 540 348.2 535 350 530 347.8Z"/>
<path fill="#FFD000" d="M535.2 354 540 353.5 540.6 356.5 536 357Z"/>
<path fill="none" stroke="#FFFF00" stroke-width="1" stroke-linejoin="round" stroke-linecap="round" d="M522.5 356.2 527.5 357.5 532.5 360"/>
<path fill="none" stroke="#FFFF00" stroke-width="1" stroke-linejoin="round" stroke-linecap="round" d="M521.2 363.1 526.2 363.8 531.2 363.1"/>
<path fill="none" stroke="#D3D3D3" stroke-width="1.2" stroke-linejoin="round" stroke-linecap="round" d="M546.2 345 548.8 350 550 355.6"/>
<path fill="#FFFF00" d="M415.9 496.6 419.6 497.2 420.9 501 417.8 503.5 415.2 501Z"/>
<path fill="#FFFF00" d="M425.2 516.6 427.1 519.8 428 523.8 425.9 522.5Z"/>
<path fill="#FFFF00" d="M415.7 496.7 417.6 495.8 419.5 498.1 421.8 499.1 420.4 500.9 417.6 502.8 416.7 500.5Z"/>
<path fill="#D5FF2A" d="M186.8 466.2 188.6 463.1 191.1 462.5 193 465.6 191.8 468.8 189.2 470Z"/>
<path fill="none" stroke="#D5FF2A" stroke-width="1.2" stroke-linejoin="round" stroke-linecap="round" d="M153.6 486 157.4 484.8 160.8 484.1"/>
<path fill="none" stroke="#D5FF2A" stroke-width="1.2" stroke-linejoin="round" stroke-linecap="round" d="M144.9 493.5 147.4 491.9 149.5 490.8"/>
<path fill="none" stroke="#FFFF00" stroke-width="1" stroke-linejoin="round" stroke-linecap="round" d="M203 462.9 208 460.8 215.5 461 220.5 462"/>
<path fill="#FFA000" d="M367.9 461 373.5 460.4 374.8 463.2 368.5 463.5Z"/>
<path fill="none" stroke="#D5FF2A" stroke-width="1.2" stroke-linejoin="round" stroke-linecap="round" d="M331 450.4 334.1 449.5 336 451"/>
<path fill="none" stroke="#D5FF2A" stroke-width="1.2" stroke-linejoin="round" stroke-linecap="round" d="M343.5 450 347.2 449.5 351.6 450.5"/>
<path fill="#0099FF" d="M554 286.8 556.9 286.2 560.6 287.5 561.2 289.6 558.8 292.1 555.6 290.9Z"/>
<path fill="#FFA000" d="M549.8 285 551.5 285.5 554 289.6 552.5 289.6Z"/>
<path fill="#FFA000" d="M224.9 459.6 228.7 459.2 232.4 461 235.2 462.4 233.4 464.3 229.6 463.8 225.9 462.4Z"/>
<path fill="#AAFF55" d="M273.7 455.1 277.9 454.5 281.4 455.1 278.4 456.8 274.2 456.8Z"/>
<path fill="#FFFF00" d="M315.4 447.9 316.3 445.4 317.5 447.9Z"/>
<path fill="none" stroke="#FFFFFF" stroke-width="0.8" stroke-linejoin="round" stroke-linecap="round" d="M549 279 551.2 283.4 553.5 287.1"/>
<path fill="#FF1000" d="M449.7 535.3 456.3 535.5 456.8 538.7 450.2 538.5Z"/>
<path fill="#D3D3D3" d="M457.4 536.4 461.9 536.4 462.9 540 460.1 545.8 457.4 546.7Z"/>
<path fill="#D3D3D3" d="M797 836 802 833.5 807 834.8 812 836 818.2 839.8 824.5 844.8 825.1 848.5 823.9 854.8 822 861 787 861 787 836Z"/>
<path fill="#D3D3D3" d="M813.2 819.1 821.4 818.5 822.2 829.1 812 829.8 807 831.6 812.6 827.9 813.2 823.5Z"/>
<path fill="none" stroke="#FFA000" stroke-width="1" stroke-linejoin="round" stroke-linecap="round" d="M284.9 468.1 289.6 470.4 293.4 472.9"/>
<path fill="#D3D3D3" shape-rendering="crispEdges" d="M434 520h1v1h-1zM436 522h1v1h-1zM434 524h1v1h-1zM437 526h1v1h-1zM435 528h1v1h-1zM438 530h1v1h-1zM439 519h1v1h-1zM440 521h1v1h-1zM438 524h1v1h-1zM441 525h1v1h-1zM439 528h1v1h-1zM442 530h1v1h-1zM444 519h1v1h-1zM445 522h1v1h-1zM444 524h1v1h-1zM446 526h1v1h-1zM445 529h1v1h-1zM447 532h1v1h-1zM443 532h1v1h-1zM440 532h1v1h-1zM437 521h1v1h-1zM442 523h1v1h-1zM438 526h1v1h-1zM441 518h1v1h-1zM446 519h1v1h-1zM448 524h1v1h-1zM451 526h1v1h-1zM455 528h1v1h-1zM458 530h1v1h-1zM460 532h1v1h-1zM462 528h1v1h-1zM463 519h1v1h-1zM460 517h1v1h-1zM458 515h1v1h-1zM455 513h1v1h-1zM453 516h1v1h-1zM456 521h1v1h-1zM460 523h1v1h-1zM451 533h1v1h-1zM457 534h1v1h-1zM446 511h1v1h-1zM445 513h1v1h-1zM453 498h1v1h-1zM455 504h1v1h-1zM457 509h1v1h-1zM450 491h1v1h-1z"/>
<path fill="none" stroke="#C89090" stroke-width="0.8" stroke-linejoin="round" stroke-linecap="round" d="M450.7 511.4 454.6 514.9 452.1 519.8 446.2 515.2 450.7 511.4"/>
<path fill="#000000" shape-rendering="crispEdges" d="M456 543h1v1h-1z"/>
<path fill="none" stroke="#FFFFFF" stroke-width="1.2" stroke-linejoin="round" stroke-linecap="round" d="M796 837.9 797 844.8 800.8 849.8 803.2 854.8 800.1 859.8"/>
<path fill="none" stroke="#FFFFFF" stroke-width="1" stroke-linejoin="round" stroke-linecap="round" d="M799.5 857.9 809.5 859.1"/>
<path fill="none" stroke="#FFFFFF" stroke-width="1" stroke-linejoin="round" stroke-linecap="round" d="M822.6 848.5 820.8 853.5 819.5 859.1"/>
<path fill="#D3D3D3" shape-rendering="crispEdges" d="M268 465h1v1h-1zM270 466h1v1h-1zM273 468h1v1h-1zM276 466h1v1h-1zM279 468h1v1h-1zM268 469h1v1h-1zM272 470h1v1h-1zM281 465h1v1h-1zM283 463h1v1h-1zM285 465h1v1h-1zM264 471h1v1h-1zM279 461h1v1h-1zM288 459h1v1h-1zM289 463h1v1h-1zM291 461h1v1h-1zM286 461h1v1h-1zM262 468h1v1h-1zM265 461h1v1h-1zM268 459h1v1h-1zM252 464h1v1h-1zM249 463h1v1h-1zM243 464h1v1h-1zM236 463h1v1h-1zM259 470h1v1h-1zM276 462h1v1h-1z"/>
<path fill="#FFFFFF" shape-rendering="crispEdges" d="M283 456h1v1h-1zM292 457h1v1h-1zM293 458h1v1h-1zM289 465h1v1h-1zM288 466h1v1h-1zM298 459h1v1h-1zM300 461h1v1h-1zM274 461h1v1h-1zM275 463h1v1h-1zM253 469h1v1h-1zM254 470h1v1h-1zM263 474h1v1h-1zM268 475h1v1h-1zM274 475h1v1h-1zM280 472h1v1h-1zM284 470h1v1h-1zM289 477h1v1h-1zM295 473h1v1h-1zM240 466h1v1h-1zM233 466h1v1h-1zM227 465h1v1h-1zM245 466h1v1h-1z"/>
<path fill="#D3D3D3" shape-rendering="crispEdges" d="M243 446h1v1h-1zM245 447h1v1h-1zM244 450h1v1h-1zM246 453h1v1h-1zM246 445h1v1h-1zM247 447h1v1h-1zM247 450h1v1h-1zM249 452h1v1h-1zM250 446h1v1h-1zM251 449h1v1h-1zM253 447h1v1h-1zM252 452h1v1h-1zM248 455h1v1h-1zM250 454h1v1h-1zM245 454h1v1h-1zM253 454h1v1h-1zM249 445h1v1h-1zM253 451h1v1h-1z"/>
<path fill="#D3D3D3" shape-rendering="crispEdges" d="M508 568h1v1h-1zM509 572h1v1h-1zM510 574h1v1h-1zM506 566h1v1h-1z"/>
<path fill="none" stroke="#D5FF2A" stroke-width="1.3" stroke-linejoin="round" stroke-linecap="round" d="M497.4 600.8 501.8 604.1 506.1 609.1"/>
<path fill="#D5FF2A" shape-rendering="crispEdges" d="M761 186h1v1h-1zM762 188h1v1h-1zM729 203h1v1h-1z"/>
<path fill="#FFFFFF" d="M825.1 811 830.8 807.9 831 809.8 825.8 812.5Z"/>
<path fill="#FFFFFF" d="M712 796.6 717 796.6 717.2 800 712 800Z"/>
<path fill="#FFFFFF" d="M724.5 798.5 726.8 797.5 727.2 799.1 725 800Z"/>
<path fill="#FFFFFF" d="M753.6 797.2 755.2 797 755.5 798.8 753.9 798.9Z"/>
<path fill="#FFFFFF" d="M738.9 814.8 742.6 814.5 742.9 816 739.1 816.1Z"/>
<path fill="#FFFFFF" d="M752 672.5 760 668.8 762 672 754.5 677Z"/>
<path fill="none" stroke="#FFFFFF" stroke-width="0.8" stroke-linejoin="round" stroke-linecap="round" d="M761.4 821 767 822.2 772.2 823"/>
<path fill="none" stroke="#FFFFFF" stroke-width="0.8" stroke-linejoin="round" stroke-linecap="round" d="M761.4 823.2 765.8 824.1 770.8 824.5"/>
<path fill="#FFFFFF" shape-rendering="crispEdges" d="M825 849h1v1h-1zM824 851h1v1h-1zM825 854h1v1h-1zM823 857h1v1h-1zM826 852h1v1h-1z"/>
<path fill="none" stroke="#FFFFFF" stroke-width="1" stroke-linejoin="round" stroke-linecap="round" d="M637.5 245.2 642.5 246.2 647.5 247.1 653.1 247.9"/>
<path fill="none" stroke="#FFFFFF" stroke-width="1.2" stroke-linejoin="round" stroke-linecap="round" d="M649.4 232.2 652.5 232.8 654.6 235.6 654.5 239.4"/>
<path fill="none" stroke="#FFFFFF" stroke-width="1.1" stroke-linejoin="round" stroke-linecap="round" d="M460.1 545.8 458.2 549.6 453.5 554.2 446.9 557.5 439.4 558.6 432.9 560.3 426.3 559.9"/>
<path fill="#FFFFFF" shape-rendering="crispEdges" d="M435 534h1v1h-1zM438 535h1v1h-1zM441 536h1v1h-1zM444 539h1v1h-1zM445 544h1v1h-1zM446 547h1v1h-1zM448 548h1v1h-1zM445 547h1v1h-1zM443 540h1v1h-1zM426 524h1v1h-1zM425 521h1v1h-1zM427 524h1v1h-1z"/>
<path fill="#FFD000" shape-rendering="crispEdges" d="M439 534h1v1h-1zM442 535h1v1h-1zM445 541h1v1h-1zM453 486h1v1h-1z"/>
<path fill="#FFFF00" shape-rendering="crispEdges" d="M426 518h1v1h-1zM425 522h1v1h-1zM428 524h1v1h-1zM452 482h1v1h-1z"/>
<path fill="#FFFFFF" d="M123 719.5 129.2 719.5 143 722.5 155.5 726.2 165.5 725 178 718.8 188 716.2 200.5 718.8 213 726.2 223 736.2 233 745 243 752.5 255.5 758.8 270.5 761.2 283 766.2 298 770 313 773.8 323 777.5 333 786.2 343 795 350.5 803.8 358 812.5 360.5 816.2 356.8 818.8 359.2 825 356.8 830 363 836.2 370.5 840 374.2 835 384 841.2 391.5 843.8 397.8 850 399 857.5 401.5 865 109 865Z"/>
<path fill="#FFFFFF" d="M469 862.5 472.8 853.8 479 851.2 486.5 852.5 495.2 862.5Z"/>
<path fill="#FFFFFF" d="M354.2 796.2 358 793 364.2 795 371.8 801.2 376.8 807.5 377.5 812.5 373 813.8 365.5 811.2 359.2 806.2 355.5 801.2Z"/>
<path fill="#FFFFFF" d="M342.5 788 346.8 787 350.5 790 348 791.8 344.2 790.5Z"/>
<path fill="#FFFFFF" d="M319.2 770 323 768 328 771.2 329.2 776.2 325.5 777.5 321.8 774.5Z"/>
<path fill="#FFFFFF" d="M194.2 678.8 210.5 673.8 228 669.5 243 664.5 253 658.8 256.8 650 257.5 640 260.5 633.5 268 623.5 278 617.2 303 613.5 328 611 338 610.5 341 616 340.5 624.8 337.5 623.5 335.5 616 325.5 616 303 618 280.5 622.2 273 628.5 270.5 641 269.8 647.5 268 655 264.2 659.5 258 663.8 255.5 670.5 248 673 240.5 670.5 223 673.8 210.5 675 194.2 679.5Z"/>
<path fill="#FFFFFF" d="M241.8 670.5 248 667.5 255 668.8 254.2 673 248 674.5 243 673.8Z"/>
<path fill="#FFFFFF" d="M320.5 672.5 318 682.5 316.8 690 315.5 702.5 314.2 712.5 311.8 722.5 305.5 725 299.2 723.8 300.5 720 308 712.5 310.5 702.5 313 690 314.2 680 310.5 675 315.5 667.5Z"/>
<path fill="none" stroke="#FFFFFF" stroke-width="2" stroke-linejoin="round" stroke-linecap="round" d="M311.8 723.2 328 722.8 343 723.8 358 721.8 385.5 724"/>
<path fill="none" stroke="#FFFFFF" stroke-width="1" stroke-linejoin="round" stroke-linecap="round" d="M340.5 716.2 348 713.8 360.5 713"/>
<path fill="none" stroke="#FFFFFF" stroke-width="1" stroke-linejoin="round" stroke-linecap="round" d="M343 718 353 716.2"/>
<path fill="#FFFFFF" d="M153 675 156.8 676.2 159.2 680 155.5 680.5Z"/>
<path fill="#FFFFFF" d="M208 698.8 213 697.5 216.8 700.5 210.5 700.8Z"/>
<path fill="none" stroke="#FFFFFF" stroke-width="1.5" stroke-linejoin="round" stroke-linecap="round" d="M224.2 715 230.5 718.8 239.2 723"/>
<path fill="#FFFFFF" d="M290.5 728.8 298 727 299.2 730.5 291.8 732.5Z"/>
<path fill="#FFFFFF" d="M331.2 162 325 172.5 316.2 182.5 317.5 186.2 325 181.2 330 176.2 333.8 172.5 331.2 178.8 326.2 191.2 321.2 200 318.8 210 320 227.5 325 238.8 331.2 240.5 340 237.5 346.2 230 349.5 220 348.8 210 345 202.5 345 195 348.8 187.5 350 182.5 357.5 176.2 361.2 175 362.5 180 364.5 178.8 365.5 173.8 372.5 170 375 166.2 370 162Z"/>
<path fill="#FFFFFF" d="M377.5 162 385 163 402.5 175 403.8 185 400 192.5 393.8 197.5 392.5 201.2 398.8 203 405 197.5 412.5 195.8 417.5 202.5 421.2 214.5 427.5 212.5 433.8 208.8 434.5 195 440 187.5 442.5 182.5 440 175 447.5 180 450 185 456.2 183.8 465 187 466.2 181.2 472.5 181.2 465 172.5 460 166.2 457.5 162Z"/>
<path fill="#FFFFFF" d="M412 225.5 413.8 221.2 417.5 220.8 421.2 224.5 420 228 412.5 228Z"/>
<path fill="#FFFFFF" d="M402 238.8 407.5 232.5 409.2 227.5 411.2 232.5 420 232.5 430 227.5 440 222.5 450 221.2 462.5 218.8 475 217.5 485 213.8 487.5 216.2 486.2 220 475 225 462.5 231.2 450 236.2 436.2 241.2 427.5 243.8 420 245.5 410 243.8 403.8 241.2Z"/>
<path fill="#FFFFFF" d="M471.2 208.8 475 203.8 482.5 200 495 198 507.5 196.2 517.5 195 520 192.5 525 193.8 532.5 191.2 537.5 193.8 536.2 205 530 207.5 520 210 510 210 500 209.5 490 211.2 480 212 473.8 211.2Z"/>
<path fill="none" stroke="#FFFFFF" stroke-width="1.2" stroke-linejoin="round" stroke-linecap="round" d="M535 193.8 541.2 189.5 547.5 184.5 556 180.5 563.5 176.2 576 171.2 583.5 168.8 588.5 164.5"/>
<path fill="none" stroke="#FFFFFF" stroke-width="1" stroke-linejoin="round" stroke-linecap="round" d="M556 166.2 571 168.8 581 170 586 165 589.8 163.8"/>
<path fill="#FFFFFF" d="M475 186.2 478.8 184.5 481.5 188 478.8 191.5 475 190.5Z"/>
<path fill="#FFFFFF" d="M307 194.5 309.5 192 311.5 195 310.5 199.5 308 199.5Z"/>
<path fill="none" stroke="#FFFFFF" stroke-width="1" stroke-linejoin="round" stroke-linecap="round" d="M487.5 185.8 495 187 502.5 185.5"/>
<path fill="none" stroke="#FFFFFF" stroke-width="0.8" stroke-linejoin="round" stroke-linecap="round" d="M517 218 518.8 222.5"/>
<path fill="none" stroke="#FFFFFF" stroke-width="0.8" stroke-linejoin="round" stroke-linecap="round" d="M523.8 217 524.5 225.5"/>
<path fill="none" stroke="#FFFFFF" stroke-width="0.8" stroke-linejoin="round" stroke-linecap="round" d="M527.5 218.8 531.2 224.5"/>
<path fill="none" stroke="#FFFFFF" stroke-width="0.8" stroke-linejoin="round" stroke-linecap="round" d="M532 216.2 535.5 220"/>
<path fill="none" stroke="#FFFFFF" stroke-width="0.8" stroke-linejoin="round" stroke-linecap="round" d="M520 223 518 226.2"/>
<path fill="none" stroke="#FFFFFF" stroke-width="1" stroke-linejoin="round" stroke-linecap="round" d="M539.5 210.5 546.2 212"/>
<path fill="#FFFFFF" d="M138.1 551.2 135.7 557.8 134.3 564.4 133.8 576 133.7 583.1 132.8 583.1 132.9 576 132.4 564.4 133.4 557.8 135.7 552.7Z"/>
<path fill="#FFFFFF" shape-rendering="crispEdges" d="M138 498h1v1h-1zM140 500h1v1h-1zM141 501h1v1h-1zM144 496h1v1h-1zM146 495h1v1h-1zM148 494h1v1h-1zM135 508h1v1h-1zM137 509h1v1h-1zM135 544h1v1h-1zM136 545h1v1h-1zM134 547h1v1h-1z"/>
<path fill="#FFFFFF" d="M133.3 607.1 136.7 610.6 141.7 616.3 140.6 619.4 137.4 615.6 133.8 610.4Z"/>
<path fill="#FFFFFF" d="M190.1 686.3 192.6 685.5 192.9 688.3 190.9 688.8Z"/>
<path fill="#FFFFFF" shape-rendering="crispEdges" d="M184 675h1v1h-1zM169 671h1v1h-1z"/>
<path fill="#FFFFFF" d="M148 383.8 153 385 154.2 382 157.2 382 157.2 387 151.8 388Z"/>
<path fill="none" stroke="#FFFFFF" stroke-width="1.2" stroke-linejoin="round" stroke-linecap="round" d="M213 372.2 219.2 371.8"/>
<path fill="none" stroke="#FFFFFF" stroke-width="1.2" stroke-linejoin="round" stroke-linecap="round" d="M311.8 327 314.2 335 315.5 341.2 317.2 346.2"/>
<path fill="none" stroke="#FFFFFF" stroke-width="1" stroke-linejoin="round" stroke-linecap="round" d="M315 326.2 318 332.5"/>
<path fill="none" stroke="#FFFFFF" stroke-width="1" stroke-linejoin="round" stroke-linecap="round" d="M323 368.8 328 368 333 370 336.8 372.5"/>
<path fill="none" stroke="#FFFFFF" stroke-width="1.2" stroke-linejoin="round" stroke-linecap="round" d="M364.5 335.5 370 334.5"/>
<path fill="none" stroke="#FFFFFF" stroke-width="0.8" stroke-linejoin="round" stroke-linecap="round" d="M348.5 394.5 350.2 391.5"/>
<path fill="none" stroke="#FFFFFF" stroke-width="0.8" stroke-linejoin="round" stroke-linecap="round" d="M344.2 401.5 345.5 406"/>
<path fill="none" stroke="#FFFFFF" stroke-width="0.9" stroke-linejoin="round" stroke-linecap="round" d="M231.8 185.2 236 186.2 239.5 188.2"/>
<path fill="none" stroke="#FFFFFF" stroke-width="0.8" stroke-linejoin="round" stroke-linecap="round" d="M254.5 198 256 203.8 258 208.8 257.5 213.2"/>
<path fill="none" stroke="#FFFFFF" stroke-width="1.5" stroke-linejoin="round" stroke-linecap="round" d="M279 193 279.5 198.8"/>
<path fill="none" stroke="#FFFFFF" stroke-width="0.8" stroke-linejoin="round" stroke-linecap="round" d="M299.2 193 304.2 193.8 306.8 196.2"/>
<path fill="none" stroke="#FFFFFF" stroke-width="1.2" stroke-linejoin="round" stroke-linecap="round" d="M288.5 212.5 291.5 213.5"/>
<path fill="#FFFFFF" shape-rendering="crispEdges" d="M200 190h1v1h-1zM257 172h1v1h-1zM281 163h1v1h-1zM141 170h1v1h-1zM142 190h1v1h-1zM147 184h1v1h-1zM143 179h1v1h-1zM182 207h1v1h-1zM180 201h1v1h-1zM298 216h1v1h-1zM306 222h1v1h-1zM312 226h1v1h-1zM298 200h1v1h-1zM221 164h1v1h-1zM249 166h1v1h-1zM152 164h1v1h-1zM174 166h1v1h-1zM188 172h1v1h-1zM212 178h1v1h-1zM378 190h1v1h-1z"/>
<path fill="#FFFFFF" d="M470.5 323.8 473.8 324.5 475.8 327 472 326.5Z"/>
<path fill="none" stroke="#FFFFFF" stroke-width="1.6" stroke-linejoin="round" stroke-linecap="round" d="M490 333 493.8 335 497.5 336"/>
<path fill="none" stroke="#FFFFFF" stroke-width="1.6" stroke-linejoin="round" stroke-linecap="round" d="M501.2 335.5 505 336 509.5 336.8"/>
<path fill="none" stroke="#FFFFFF" stroke-width="1.6" stroke-linejoin="round" stroke-linecap="round" d="M407.5 373.2 411.2 374.5 414.5 376.2"/>
<path fill="#FFFFFF" d="M417 383.8 421.2 385 425 388 424.5 390.5 418.8 390 420 387.5Z"/>
<path fill="none" stroke="#FFFFFF" stroke-width="1.4" stroke-linejoin="round" stroke-linecap="round" d="M437.5 382 443.8 382.5"/>
<path fill="none" stroke="#FFFFFF" stroke-width="1.4" stroke-linejoin="round" stroke-linecap="round" d="M456.2 391.8 461.2 393 465.5 395.5"/>
<path fill="#FFFFFF" d="M203 421.2 204.9 421.6 207.4 424.8 209 428.5 211.8 431 212 436 208.6 435.8 207 432.2 208 429.8 206.5 426 204.5 422.9Z"/>
<path fill="#FFFFFF" d="M372.9 441.6 374.8 441 376 442.5 379.1 442.9 376.6 444.8 373.5 445Z"/>
<path fill="#FFFFFF" shape-rendering="crispEdges" d="M432 481h1v1h-1zM435 484h1v1h-1zM440 491h1v1h-1zM442 497h1v1h-1zM440 496h1v1h-1zM442 507h1v1h-1z"/>
<path fill="#FFFFFF" d="M590.5 178 593.5 176 595.5 177 594 183.8 592.5 187.5 590.5 187 589.5 182.5Z"/>
<path fill="none" stroke="#FFFFFF" stroke-width="1" stroke-linejoin="round" stroke-linecap="round" d="M591 187 589.8 197.5 587.2 203 584.5 207.5"/>
<path fill="none" stroke="#FFFFFF" stroke-width="1.2" stroke-linejoin="round" stroke-linecap="round" d="M610.5 173.8 611.5 178.8"/>
<path fill="#FFFFFF" d="M636 178 639 177.5 639.8 181.5 636.5 182.5Z"/>
<path fill="#FFFFFF" d="M626.8 202 629.5 201.2 631.5 205 628.5 206.5Z"/>
<path fill="none" stroke="#FFFFFF" stroke-width="1.5" stroke-linejoin="round" stroke-linecap="round" d="M610.2 224.5 611.5 228.5"/>
<path fill="#FFFFFF" d="M657.2 163 662.2 163 661 167.5 658.5 166.5Z"/>
<path fill="#FFFFFF" d="M692.2 163 701 163.5 700.5 166.2 694.8 165Z"/>
<path fill="#FFFFFF" shape-rendering="crispEdges" d="M642 198h1v1h-1z"/>
<path fill="#FFFFFF" d="M536.5 847.5 540.2 841.2 546.5 838 549 840 544 843.8 540.2 848.8Z"/>
<path fill="#FFFFFF" d="M547 828.8 549 821.2 552.8 817.5 559 815 560.2 817 555.2 819.5 552 823.8 549.5 830Z"/>
<path fill="none" stroke="#FFFFFF" stroke-width="2.2" stroke-linejoin="round" stroke-linecap="round" d="M599 802.5 606.5 795.5 614 790.5 622.8 788"/>
<path fill="none" stroke="#FFFFFF" stroke-width="1.5" stroke-linejoin="round" stroke-linecap="round" d="M569 816.2 572 813.8"/>
<path fill="#FFFFFF" d="M439 657 442.8 656.5 445.5 658.5 442 659.5Z"/>
<path fill="none" stroke="#FFFFFF" stroke-width="1.2" stroke-linejoin="round" stroke-linecap="round" d="M464.5 651.5 471.5 650.5"/>
<path fill="#FFFFFF" shape-rendering="crispEdges" d="M434 784h1v1h-1zM440 770h1v1h-1zM582 848h1v1h-1zM564 831h1v1h-1zM558 821h1v1h-1z"/>
<path fill="#FFFFFF" d="M514 687 519 688 524 686.5 521 690 518.5 691Z"/>
<path fill="none" stroke="#FFFFFF" stroke-width="1.2" stroke-linejoin="round" stroke-linecap="round" d="M421.5 845.5 426.5 847.5 431.5 851.2"/>
<path fill="none" stroke="#FFFFFF" stroke-width="1.5" stroke-linejoin="round" stroke-linecap="round" d="M465.2 850 469 847 471.5 849.5"/>
<path fill="none" stroke="#FFFFFF" stroke-width="1.5" stroke-linejoin="round" stroke-linecap="round" d="M389.5 729.5 396.5 732 401.5 735"/>
<path fill="none" stroke="#FFFFFF" stroke-width="1" stroke-linejoin="round" stroke-linecap="round" d="M404 745 402 757.5 400.5 770"/>
<path fill="none" stroke="#FFFFFF" stroke-width="1" stroke-linejoin="round" stroke-linecap="round" d="M616.5 806.2 620.2 812.5 623.5 818"/>
<path fill="none" stroke="#FFFFFF" stroke-width="2.5" stroke-linejoin="round" stroke-linecap="round" d="M600 800 607.5 793 615 789.2 622.5 787"/>
<path fill="#FFFFFF" d="M649.5 802.5 658.8 802.5 658.8 805.5 650 805.5Z"/>
<path fill="none" stroke="#FFFFFF" stroke-width="1.2" stroke-linejoin="round" stroke-linecap="round" d="M668.8 788.8 672.5 792 676.2 793.8"/>
<path fill="none" stroke="#FFFFFF" stroke-width="1.2" stroke-linejoin="round" stroke-linecap="round" d="M683.8 790 687 793"/>
<path fill="none" stroke="#FFFFFF" stroke-width="1" stroke-linejoin="round" stroke-linecap="round" d="M652.5 784.5 655.5 787.5"/>
<path fill="#FFFFFF" d="M711.2 797 717 796 717.5 799.5 712 800Z"/>
<path fill="#FFFFFF" shape-rendering="crispEdges" d="M725 798h1v1h-1zM754 798h1v1h-1zM697 794h1v1h-1zM740 814h1v1h-1zM710 836h1v1h-1zM702 850h1v1h-1zM694 830h1v1h-1z"/>
<path fill="none" stroke="#FFFFFF" stroke-width="1" stroke-linejoin="round" stroke-linecap="round" d="M749.5 688 756.2 687"/>
<path fill="none" stroke="#FFFFFF" stroke-width="1" stroke-linejoin="round" stroke-linecap="round" d="M785.5 693.8 792.5 699.5"/>
<path fill="#FFFFFF" d="M693 828 698 828 698 831 693.5 831Z"/>
<path fill="#FFFFFF" shape-rendering="crispEdges" d="M799 706h1v1h-1zM816 721h1v1h-1zM782 680h1v1h-1zM784 681h1v1h-1z"/>
<path fill="none" stroke="#FFFFFF" stroke-width="1.2" stroke-linejoin="round" stroke-linecap="round" d="M598.1 644.5 604.8 645.2"/>
<path fill="none" stroke="#FFFFFF" stroke-width="1" stroke-linejoin="round" stroke-linecap="round" d="M615 666.2 619.1 666.5"/>
<path fill="#FFFFFF" d="M614.8 671.4 616.6 671.4 618.1 673.9 615.8 673.5Z"/>
<path fill="#FFFFFF" d="M619.8 672.6 622.9 673 626 675.1 622.9 675.5 620.4 674.2Z"/>
<path fill="none" stroke="#FFFFFF" stroke-width="1" stroke-linejoin="round" stroke-linecap="round" d="M662.2 658.5 668.5 658.2"/>
<path fill="#FFFFFF" shape-rendering="crispEdges" d="M630 677h1v1h-1zM585 681h1v1h-1zM584 672h1v1h-1z"/>
<path fill="#FFFFFF" d="M510.6 685.4 516.2 686 518.8 686.9 521.2 685.5 523.8 686.8 520.6 690.5 516.9 690.9 513.1 688.6Z"/>
<path fill="#FFFFFF" d="M589.8 808.8 594.8 805.4 599.1 800.4 601 796.6 607.2 794.8 612.2 791.6 617.2 787.9 619.1 788.5 617.9 791 613.5 793.5 608.5 796.6 603.5 799.1 600.4 802.9 596 807.2 591.6 809.5Z"/>
<path fill="#FFFFFF" d="M650.4 801.9 658.5 801.6 659.1 805 651 805.8Z"/>
<path fill="none" stroke="#FFFFFF" stroke-width="1" stroke-linejoin="round" stroke-linecap="round" d="M652.5 784.2 656 787.2"/>
<path fill="none" stroke="#FFFFFF" stroke-width="1.2" stroke-linejoin="round" stroke-linecap="round" d="M669.1 788.5 672.2 791.6 676.6 794.1"/>
<path fill="none" stroke="#FFFFFF" stroke-width="1.2" stroke-linejoin="round" stroke-linecap="round" d="M683.5 789.8 686 791 686.6 794.1"/>
<path fill="#FFFFFF" d="M693.5 829.1 696 827.9 698.5 829.5 697.9 831 694.1 831Z"/>
<path fill="#FFFFFF" d="M581 847.5 582.9 847.2 583.8 850 581.6 850.8Z"/>
<path fill="none" stroke="#FFFFFF" stroke-width="1" stroke-linejoin="round" stroke-linecap="round" d="M616.2 807.2 617.9 811.6 621 814.1"/>
<path fill="#FFFFFF" d="M366.8 828.2 370 829 373.9 834.5 375.8 837.1 372.3 837.9 368.4 832.9Z"/>
<path fill="none" stroke="#FFFFFF" stroke-width="1" stroke-linejoin="round" stroke-linecap="round" d="M421.5 844.6 425.4 843.8 427 847.8 431.7 849.3 432.5 851.7 427 852.4 423.9 850.9 423.1 847 421.5 844.6"/>
<path fill="none" stroke="#FFFFFF" stroke-width="1.6" stroke-linejoin="round" stroke-linecap="round" d="M352 715.2 355.9 714.9 359.8 714.3"/>
<path fill="#FFFFFF" d="M389.2 730.2 392.9 730.6 397.3 733.7 394.2 734.6 390.3 732.9Z"/>
<path fill="none" stroke="#FFFFFF" stroke-width="1.8" stroke-linejoin="round" stroke-linecap="round" d="M402.8 741.5 405.9 744.9 405.9 750.9"/>
<path fill="none" stroke="#FFFFFF" stroke-width="1.8" stroke-linejoin="round" stroke-linecap="round" d="M397.6 779.8 399.7 785.2 398.1 791.5 395.8 797.8"/>
<path fill="#FFFFFF" shape-rendering="crispEdges" d="M354 773h1v1h-1zM414 750h1v1h-1zM374 822h1v1h-1zM355 711h1v1h-1z"/>
<path fill="#FFFFFF" d="M326 670.1 328.2 669.3 329.4 672 327.9 674.8 325.8 673.6Z"/>
<path fill="none" stroke="#FFFFFF" stroke-width="1.3" stroke-linejoin="round" stroke-linecap="round" d="M322.4 652.2 326.6 651.1"/>
<path fill="none" stroke="#FFFFFF" stroke-width="1.3" stroke-linejoin="round" stroke-linecap="round" d="M323.5 655.3 327.6 654.2"/>
<path fill="none" stroke="#FFFFFF" stroke-width="1.3" stroke-linejoin="round" stroke-linecap="round" d="M323.2 659.5 326 658.4"/>
<path fill="none" stroke="#FFFFFF" stroke-width="1.2" stroke-linejoin="round" stroke-linecap="round" d="M317.7 695.9 319.8 692.8"/>
<path fill="#FFFFFF" d="M311.5 722.9 324.8 722 337.2 724.3 349.8 723.6 359.1 719.7 371.6 721.2 384.9 723.6 384.9 724.8 371.6 722.9 359.1 721.7 349.8 725.6 337.2 726.1 324.8 724 312.2 724.8Z"/>
<path fill="#FFFFFF" d="M341.9 715.4 348.2 712.6 356 712.3 360.4 713.9 356 716.2 348.2 717.3 343.5 717.8Z"/>
<path fill="#FFFFFF" shape-rendering="crispEdges" d="M316 741h1v1h-1zM262 689h1v1h-1zM259 697h1v1h-1zM274 700h1v1h-1zM281 702h1v1h-1zM290 699h1v1h-1zM256 744h1v1h-1zM267 749h1v1h-1zM276 750h1v1h-1z"/>
<path fill="#D5FF2A" shape-rendering="crispEdges" d="M326 694h1v1h-1z"/>
<path fill="none" stroke="#FFFFFF" stroke-width="1.3" stroke-linejoin="round" stroke-linecap="round" d="M525.8 560.2 530.8 565.2 535.8 571.5 539.5 576.5 544.5 580.2 549.5 581.5"/>
<path fill="none" stroke="#FFFFFF" stroke-width="1.3" stroke-linejoin="round" stroke-linecap="round" d="M545.8 558.4 549.5 562.8 553.9 567.5"/>
<path fill="none" stroke="#FFFFFF" stroke-width="1.3" stroke-linejoin="round" stroke-linecap="round" d="M553.2 577.1 555.8 581.5 558.2 586.5 562 589 563 591.8"/>
<path fill="none" stroke="#FFFFFF" stroke-width="1.6" stroke-linejoin="round" stroke-linecap="round" d="M572 593 577 594.2 581 594.9 581.1 598 578.2 601.5 573.9 605.2"/>
<path fill="none" stroke="#FFFFFF" stroke-width="1.2" stroke-linejoin="round" stroke-linecap="round" d="M594.5 600.2 599.5 601.1 602.6 602.2"/>
<path fill="none" stroke="#FFFFFF" stroke-width="1.2" stroke-linejoin="round" stroke-linecap="round" d="M525.1 545.2 530.8 544.8 537 548.5 538.6 551.5 538 557.5"/>
<path fill="none" stroke="#FFFFFF" stroke-width="1" stroke-linejoin="round" stroke-linecap="round" d="M535.1 555.9 537.6 554.6"/>
<path fill="#FFFFFF" shape-rendering="crispEdges" d="M568 570h1v1h-1zM562 576h1v1h-1zM583 587h1v1h-1zM586 597h1v1h-1zM544 601h1v1h-1zM556 605h1v1h-1zM632 618h1v1h-1zM636 627h1v1h-1zM542 559h1v1h-1zM512 551h1v1h-1zM515 550h1v1h-1zM519 549h1v1h-1zM512 571h1v1h-1z"/>
<path fill="none" stroke="#FFFFFF" stroke-width="1.8" stroke-linejoin="round" stroke-linecap="round" d="M608.2 614.2 610.8 611.8 615.8 609.2 619.8 611.5 624.5 613.5 625.8 617.2"/>
<path fill="none" stroke="#FFFFFF" stroke-width="1.2" stroke-linejoin="round" stroke-linecap="round" d="M598.2 644.6 604.5 645.2"/>
<path fill="none" stroke="#FFFFFF" stroke-width="1.5" stroke-linejoin="round" stroke-linecap="round" d="M597 617.1 598 619"/>
<path fill="none" stroke="#FFFFFF" stroke-width="1.5" stroke-linejoin="round" stroke-linecap="round" d="M525.6 542.8 529.4 542 533.8 545.8 538.1 549 538.8 553.8 537.2 558.8"/>
<path fill="none" stroke="#FFFFFF" stroke-width="1" stroke-linejoin="round" stroke-linecap="round" d="M525.6 542.8 525.8 545.6"/>
<path fill="none" stroke="#FFFFFF" stroke-width="1.2" stroke-linejoin="round" stroke-linecap="round" d="M512.5 551 517.5 550.2 520.6 549.5"/>
<path fill="none" stroke="#FFFFFF" stroke-width="1.2" stroke-linejoin="round" stroke-linecap="round" d="M545.6 558.1 550 563.8 553.8 567.8"/>
<path fill="#FFFFFF" shape-rendering="crispEdges" d="M505 537h1v1h-1zM506 538h1v1h-1zM508 543h1v1h-1zM511 527h1v1h-1zM480 539h1v1h-1zM542 559h1v1h-1zM520 520h1v1h-1z"/>
<path fill="#00FFFF" shape-rendering="crispEdges" d="M490 544h1v1h-1zM490 545h1v1h-1z"/>
<path fill="none" stroke="#D5FF2A" stroke-width="1" stroke-linejoin="round" stroke-linecap="round" d="M504.4 543.8 506.9 544 508.8 542.8"/>
<path fill="#FFFFFF" d="M504.9 564.1 507.4 563.5 510.5 567.9 512.8 572.9 511.8 575.8 508.2 576 506.8 572.2 509.2 571 506.8 567.2Z"/>
<path fill="none" stroke="#FFFFFF" stroke-width="1" stroke-linejoin="round" stroke-linecap="round" d="M448 585.4 455.5 586.6 463 589.1 470.5 592.9 476.8 596 484.2 597.2 490.5 597.9"/>
<path fill="none" stroke="#FFFFFF" stroke-width="1" stroke-linejoin="round" stroke-linecap="round" d="M498 600.4 504.2 603.5 510.5 609.1 516.8 614.8 523 619.1 529.2 621.6"/>
<path fill="#FFFFFF" shape-rendering="crispEdges" d="M451 587h1v1h-1zM459 590h1v1h-1zM466 592h1v1h-1zM472 596h1v1h-1zM480 598h1v1h-1zM544 601h1v1h-1zM546 604h1v1h-1zM575 602h1v1h-1zM572 593h1v1h-1zM574 594h1v1h-1zM568 570h1v1h-1zM562 577h1v1h-1zM474 579h1v1h-1zM479 539h1v1h-1z"/>
<path fill="none" stroke="#FFFFFF" stroke-width="1" stroke-linejoin="round" stroke-linecap="round" d="M477.1 624 482.8 627.8 489 632.1"/>
<path fill="none" stroke="#FFFFFF" stroke-width="1.2" stroke-linejoin="round" stroke-linecap="round" d="M426.5 615.9 432.1 614.6"/>
<path fill="none" stroke="#FFFFFF" stroke-width="1.2" stroke-linejoin="round" stroke-linecap="round" d="M436.5 615.2 440.9 614"/>
<path fill="none" stroke="#FFFFFF" stroke-width="1.5" stroke-linejoin="round" stroke-linecap="round" d="M439.6 657.5 442.8 658.8 445.9 658.4"/>
<path fill="none" stroke="#FFFFFF" stroke-width="1.2" stroke-linejoin="round" stroke-linecap="round" d="M464.6 651.5 471.5 650.2"/>
<path fill="#FFFFFF" shape-rendering="crispEdges" d="M398 608h1v1h-1zM402 609h1v1h-1zM419 612h1v1h-1zM422 616h1v1h-1zM495 632h1v1h-1zM490 625h1v1h-1zM474 578h1v1h-1zM474 621h1v1h-1z"/>
<path fill="none" stroke="#FFFFFF" stroke-width="1.5" stroke-linejoin="round" stroke-linecap="round" d="M407.1 615.9 409 617.8 412.8 618.8"/>
<path fill="none" stroke="#FFFFFF" stroke-width="1" stroke-linejoin="round" stroke-linecap="round" d="M750 416.2 752 415 753.6 414"/>
<path fill="none" stroke="#FFFFFF" stroke-width="1" stroke-linejoin="round" stroke-linecap="round" d="M767 171.5 772 171 777 171"/>
<path fill="#FFFFFF" d="M777 163.5 787 163 802 164.2 804.8 165.8 793.2 165.5 782 165.1Z"/>
<path fill="#FFFFFF" d="M807 163.8 812 164 816.4 165.8 812 166.2 808.2 165.2Z"/>
<path fill="#FFFFFF" d="M820.8 163.8 825.1 163.5 826.4 164.8 822 165.2Z"/>
<path fill="#FFFFFF" d="M742.6 192.5 745.1 191 748.2 192.8 745.1 194Z"/>
<path fill="none" stroke="#FFFFFF" stroke-width="1.6" stroke-linejoin="round" stroke-linecap="round" d="M735.1 207.1 739.5 204.6 744.5 202.1 749.5 199 754.5 195.9 759.5 192.8 761.4 189 764.5 185.9"/>
<path fill="none" stroke="#FFFFFF" stroke-width="1.3" stroke-linejoin="round" stroke-linecap="round" d="M768.2 187.1 772 188.4 775.8 185.9 779.5 184 784.5 182.8 789.5 182.1 794.5 180.2 799.5 179 804.5 177.1 809.5 175.2 815.8 173.4 822 172.1"/>
<path fill="none" stroke="#FFFFFF" stroke-width="1.3" stroke-linejoin="round" stroke-linecap="round" d="M712 176.5 719.5 174.6 727 172.8 732 171.9"/>
<path fill="#FFFFFF" shape-rendering="crispEdges" d="M713 183h1v1h-1zM713 184h1v1h-1z"/>
<path fill="#FFFFFF" shape-rendering="crispEdges" d="M673 189h1v1h-1zM674 191h1v1h-1zM676 193h1v1h-1zM677 190h1v1h-1zM680 188h1v1h-1zM681 190h1v1h-1zM686 188h1v1h-1zM687 190h1v1h-1zM674 199h1v1h-1zM666 200h1v1h-1zM708 178h1v1h-1zM713 182h1v1h-1zM713 184h1v1h-1zM658 197h1v1h-1zM660 196h1v1h-1zM611 174h1v1h-1zM612 177h1v1h-1zM637 179h1v1h-1zM638 180h1v1h-1zM643 198h1v1h-1zM628 203h1v1h-1zM630 204h1v1h-1zM610 225h1v1h-1zM610 226h1v1h-1zM660 164h1v1h-1zM661 166h1v1h-1zM674 164h1v1h-1zM697 164h1v1h-1zM700 165h1v1h-1z"/>
<path fill="#FFFFFF" d="M711.9 181.5 714 181.2 714.8 185 712.5 185.6Z"/>
<path fill="#00FFFF" shape-rendering="crispEdges" d="M673 190h1v1h-1zM674 192h1v1h-1zM676 191h1v1h-1zM681 192h1v1h-1zM680 190h1v1h-1zM629 240h1v1h-1zM640 241h1v1h-1z"/>
<path fill="none" stroke="#FFFFFF" stroke-width="0.8" stroke-linejoin="round" stroke-linecap="round" d="M542.8 327.5 545 333.8 547.5 341.2 550.6 351.9 551.4 357.5 548.8 360.8 543.8 362.8 538.8 365.9 533.1 371"/>
<path fill="none" stroke="#FFFFFF" stroke-width="0.8" stroke-linejoin="round" stroke-linecap="round" d="M527.5 321.2 532.5 324.4"/>
<path fill="#FFFFFF" shape-rendering="crispEdges" d="M452 414h1v1h-1zM455 413h1v1h-1zM457 413h1v1h-1zM458 411h1v1h-1zM444 424h1v1h-1zM445 423h1v1h-1zM443 427h1v1h-1zM438 450h1v1h-1zM437 451h1v1h-1zM438 454h1v1h-1zM464 396h1v1h-1zM432 481h1v1h-1zM435 484h1v1h-1z"/>
<path fill="#FFFFFF" shape-rendering="crispEdges" d="M416 480h1v1h-1zM416 481h1v1h-1zM415 488h1v1h-1zM413 495h1v1h-1zM414 497h1v1h-1z"/>
<path fill="#800000" shape-rendering="crispEdges" d="M224 448h1v1h-1zM229 451h1v1h-1zM228 453h1v1h-1zM227 456h1v1h-1zM234 454h1v1h-1zM231 456h1v1h-1zM236 455h1v1h-1zM239 455h1v1h-1zM240 457h1v1h-1zM238 458h1v1h-1zM237 460h1v1h-1zM259 451h1v1h-1zM260 453h1v1h-1zM263 451h1v1h-1zM266 449h1v1h-1zM270 449h1v1h-1zM283 449h1v1h-1zM283 451h1v1h-1zM283 453h1v1h-1zM288 451h1v1h-1zM294 451h1v1h-1zM297 449h1v1h-1zM302 441h1v1h-1zM303 443h1v1h-1zM305 447h1v1h-1zM307 449h1v1h-1zM268 457h1v1h-1zM270 457h1v1h-1zM276 459h1v1h-1zM261 456h1v1h-1zM263 458h1v1h-1zM264 465h1v1h-1zM246 442h1v1h-1zM241 444h1v1h-1zM256 448h1v1h-1zM256 452h1v1h-1zM257 453h1v1h-1z"/>
<path fill="#FF7000" shape-rendering="crispEdges" d="M285 452h1v1h-1zM285 453h1v1h-1zM305 449h1v1h-1zM306 450h1v1h-1zM307 450h1v1h-1zM263 453h1v1h-1z"/>
<path fill="#FFA000" shape-rendering="crispEdges" d="M316 443h1v1h-1z"/>
<path fill="#FFFF00" shape-rendering="crispEdges" d="M138 509h1v1h-1zM140 509h1v1h-1zM138 515h1v1h-1zM138 517h1v1h-1zM144 494h1v1h-1zM155 483h1v1h-1z"/>
<path fill="#D5FF2A" shape-rendering="crispEdges" d="M142 499h1v1h-1zM143 500h1v1h-1zM144 501h1v1h-1zM158 485h1v1h-1zM160 485h1v1h-1zM161 484h1v1h-1z"/>
<path fill="#FFD000" shape-rendering="crispEdges" d="M675 182h1v1h-1zM710 176h1v1h-1zM709 174h1v1h-1zM705 174h1v1h-1zM648 202h1v1h-1zM658 198h1v1h-1zM664 196h1v1h-1z"/>
<path fill="#800000" shape-rendering="crispEdges" d="M635 218h1v1h-1zM636 223h1v1h-1zM633 227h1v1h-1zM636 234h1v1h-1zM636 239h1v1h-1zM626 238h1v1h-1zM601 254h1v1h-1z"/>
<path fill="#FF4000" shape-rendering="crispEdges" d="M662 195h1v1h-1zM634 226h1v1h-1z"/>
<path fill="#800000" shape-rendering="crispEdges" d="M541 285h1v1h-1zM542 285h1v1h-1zM546 288h1v1h-1zM547 288h1v1h-1zM539 292h1v1h-1zM542 292h1v1h-1zM546 295h1v1h-1zM547 295h1v1h-1zM551 295h1v1h-1zM550 297h1v1h-1zM553 297h1v1h-1zM555 299h1v1h-1zM557 299h1v1h-1zM551 300h1v1h-1zM549 303h1v1h-1zM551 304h1v1h-1zM554 302h1v1h-1zM557 302h1v1h-1zM544 298h1v1h-1zM528 297h1v1h-1zM530 286h1v1h-1zM535 282h1v1h-1zM545 284h1v1h-1zM552 278h1v1h-1zM555 273h1v1h-1zM558 272h1v1h-1zM565 277h1v1h-1zM569 261h1v1h-1zM577 255h1v1h-1zM582 257h1v1h-1zM593 255h1v1h-1zM594 253h1v1h-1zM597 256h1v1h-1zM600 256h1v1h-1zM601 254h1v1h-1zM599 246h1v1h-1zM626 238h1v1h-1zM546 316h1v1h-1zM525 331h1v1h-1zM532 330h1v1h-1zM536 329h1v1h-1zM531 334h1v1h-1zM534 334h1v1h-1zM538 334h1v1h-1zM523 335h1v1h-1zM526 335h1v1h-1zM533 337h1v1h-1zM528 340h1v1h-1zM531 341h1v1h-1zM535 340h1v1h-1zM537 342h1v1h-1zM522 344h1v1h-1zM526 346h1v1h-1zM518 346h1v1h-1zM512 348h1v1h-1zM513 350h1v1h-1zM532 350h1v1h-1zM533 351h1v1h-1zM528 342h1v1h-1zM539 340h1v1h-1z"/>
<path fill="#FFA000" shape-rendering="crispEdges" d="M551 282h1v1h-1zM548 281h1v1h-1zM557 284h1v1h-1zM559 283h1v1h-1zM563 286h1v1h-1zM564 285h1v1h-1zM570 279h1v1h-1zM550 287h1v1h-1zM551 288h1v1h-1zM544 298h1v1h-1zM545 304h1v1h-1zM523 337h1v1h-1zM523 338h1v1h-1zM522 347h1v1h-1zM571 280h1v1h-1zM574 275h1v1h-1z"/>
<path fill="#FFFF00" shape-rendering="crispEdges" d="M579 234h1v1h-1zM579 241h1v1h-1z"/>
<path fill="none" stroke="#AAFF55" stroke-width="0.8" stroke-linejoin="round" stroke-linecap="round" d="M579.4 245.2 580 248.4 580.6 250.9"/>
<path fill="#800000" shape-rendering="crispEdges" d="M525 331h1v1h-1zM532 330h1v1h-1zM536 329h1v1h-1zM531 334h1v1h-1zM538 334h1v1h-1zM526 335h1v1h-1zM533 337h1v1h-1zM528 342h1v1h-1zM529 343h1v1h-1zM531 342h1v1h-1zM535 343h1v1h-1zM537 341h1v1h-1zM522 344h1v1h-1zM526 346h1v1h-1zM512 348h1v1h-1zM513 350h1v1h-1zM514 352h1v1h-1zM518 346h1v1h-1zM521 347h1v1h-1zM533 350h1v1h-1zM527 352h1v1h-1zM526 353h1v1h-1zM544 352h1v1h-1zM513 356h1v1h-1zM516 358h1v1h-1zM516 359h1v1h-1zM507 360h1v1h-1zM528 359h1v1h-1zM514 363h1v1h-1zM516 364h1v1h-1zM518 366h1v1h-1zM520 367h1v1h-1zM521 365h1v1h-1zM523 367h1v1h-1zM515 368h1v1h-1zM521 369h1v1h-1zM504 369h1v1h-1zM508 371h1v1h-1zM505 370h1v1h-1zM498 374h1v1h-1zM506 376h1v1h-1zM507 375h1v1h-1zM502 380h1v1h-1zM493 381h1v1h-1zM491 383h1v1h-1zM490 384h1v1h-1zM490 384h1v1h-1zM477 384h1v1h-1zM478 386h1v1h-1zM480 388h1v1h-1zM486 386h1v1h-1zM487 388h1v1h-1zM469 390h1v1h-1zM480 391h1v1h-1zM478 392h1v1h-1zM480 393h1v1h-1zM474 392h1v1h-1zM473 393h1v1h-1zM476 394h1v1h-1zM477 394h1v1h-1zM474 395h1v1h-1zM475 396h1v1h-1zM476 396h1v1h-1zM478 394h1v1h-1zM468 394h1v1h-1zM455 403h1v1h-1zM463 403h1v1h-1zM449 405h1v1h-1zM452 406h1v1h-1zM473 401h1v1h-1zM471 402h1v1h-1zM441 410h1v1h-1zM444 413h1v1h-1zM445 412h1v1h-1zM452 409h1v1h-1zM453 410h1v1h-1zM448 408h1v1h-1zM465 408h1v1h-1zM444 416h1v1h-1zM446 420h1v1h-1zM442 420h1v1h-1zM440 420h1v1h-1zM440 424h1v1h-1zM440 428h1v1h-1z"/>
<path fill="#FFA000" shape-rendering="crispEdges" d="M523 335h1v1h-1zM523 337h1v1h-1zM523 348h1v1h-1zM524 349h1v1h-1zM517 353h1v1h-1zM519 360h1v1h-1zM528 361h1v1h-1zM500 376h1v1h-1zM504 377h1v1h-1zM483 389h1v1h-1zM482 390h1v1h-1zM478 398h1v1h-1zM479 398h1v1h-1zM470 400h1v1h-1zM468 404h1v1h-1zM453 408h1v1h-1zM457 408h1v1h-1zM444 416h1v1h-1zM447 418h1v1h-1zM441 421h1v1h-1z"/>
<path fill="none" stroke="#FFFF00" stroke-width="1" stroke-linejoin="round" stroke-linecap="round" d="M538.8 331.9 541.9 336.2 545 341.9 546.9 346.9"/>
<path fill="#800000" shape-rendering="crispEdges" d="M438 421h1v1h-1zM438 422h1v1h-1zM439 423h1v1h-1zM438 424h1v1h-1zM440 422h1v1h-1zM439 426h1v1h-1zM441 420h1v1h-1zM437 423h1v1h-1zM434 432h1v1h-1zM435 433h1v1h-1zM436 434h1v1h-1zM434 435h1v1h-1zM436 432h1v1h-1zM433 436h1v1h-1zM435 436h1v1h-1zM430 439h1v1h-1zM432 440h1v1h-1zM433 441h1v1h-1zM431 441h1v1h-1zM428 443h1v1h-1zM432 464h1v1h-1zM433 466h1v1h-1zM434 466h1v1h-1zM431 467h1v1h-1zM438 474h1v1h-1zM440 475h1v1h-1zM439 477h1v1h-1zM440 474h1v1h-1zM445 478h1v1h-1zM446 480h1v1h-1zM446 481h1v1h-1zM447 482h1v1h-1zM447 484h1v1h-1zM448 486h1v1h-1zM445 480h1v1h-1zM474 393h1v1h-1zM475 394h1v1h-1zM476 393h1v1h-1zM478 394h1v1h-1zM475 396h1v1h-1zM477 396h1v1h-1zM479 393h1v1h-1zM473 395h1v1h-1zM416 475h1v1h-1zM417 476h1v1h-1zM417 479h1v1h-1zM418 480h1v1h-1zM416 481h1v1h-1zM417 483h1v1h-1zM444 412h1v1h-1zM445 414h1v1h-1zM441 410h1v1h-1zM449 405h1v1h-1zM452 406h1v1h-1zM456 403h1v1h-1zM453 409h1v1h-1zM463 403h1v1h-1zM465 393h1v1h-1zM468 394h1v1h-1z"/>
<path fill="#FFA000" shape-rendering="crispEdges" d="M453 408h1v1h-1zM453 409h1v1h-1zM457 407h1v1h-1zM458 408h1v1h-1zM444 416h1v1h-1zM442 421h1v1h-1zM443 422h1v1h-1zM434 447h1v1h-1zM433 456h1v1h-1zM437 463h1v1h-1zM438 465h1v1h-1zM439 469h1v1h-1zM437 466h1v1h-1zM466 399h1v1h-1zM470 400h1v1h-1zM468 404h1v1h-1z"/>
<path fill="#FFFF00" shape-rendering="crispEdges" d="M450 414h1v1h-1zM453 412h1v1h-1zM441 426h1v1h-1zM440 434h1v1h-1zM438 438h1v1h-1zM438 442h1v1h-1zM435 457h1v1h-1zM436 459h1v1h-1zM438 461h1v1h-1zM435 454h1v1h-1zM471 404h1v1h-1zM451 482h1v1h-1z"/>
<path fill="#FF4000" shape-rendering="crispEdges" d="M436 471h1v1h-1zM437 472h1v1h-1zM432 440h1v1h-1zM437 432h1v1h-1z"/>
<path fill="#800000" shape-rendering="crispEdges" d="M438 422h1v1h-1zM440 424h1v1h-1zM437 425h1v1h-1zM441 421h1v1h-1zM433 427h1v1h-1zM435 432h1v1h-1zM436 434h1v1h-1zM434 436h1v1h-1zM437 432h1v1h-1zM432 439h1v1h-1zM430 440h1v1h-1zM428 442h1v1h-1zM432 440h1v1h-1zM444 417h1v1h-1zM447 418h1v1h-1zM385 452h1v1h-1zM388 452h1v1h-1zM396 450h1v1h-1zM394 454h1v1h-1zM395 456h1v1h-1zM397 456h1v1h-1zM393 456h1v1h-1zM404 462h1v1h-1zM405 464h1v1h-1zM406 466h1v1h-1zM408 468h1v1h-1zM409 469h1v1h-1zM410 463h1v1h-1zM410 466h1v1h-1zM411 459h1v1h-1zM414 460h1v1h-1zM413 472h1v1h-1zM415 473h1v1h-1zM414 474h1v1h-1zM417 476h1v1h-1zM417 480h1v1h-1zM417 484h1v1h-1zM415 490h1v1h-1zM433 465h1v1h-1zM432 467h1v1h-1zM434 467h1v1h-1zM432 470h1v1h-1zM436 474h1v1h-1zM439 475h1v1h-1zM440 477h1v1h-1zM438 481h1v1h-1zM442 480h1v1h-1zM446 479h1v1h-1zM445 481h1v1h-1zM447 483h1v1h-1zM418 496h1v1h-1zM422 495h1v1h-1zM421 497h1v1h-1zM418 503h1v1h-1zM421 506h1v1h-1zM420 509h1v1h-1zM422 509h1v1h-1zM424 508h1v1h-1zM423 513h1v1h-1zM430 512h1v1h-1zM431 509h1v1h-1zM430 516h1v1h-1zM429 518h1v1h-1zM432 519h1v1h-1zM435 433h1v1h-1zM437 436h1v1h-1zM434 434h1v1h-1zM438 423h1v1h-1zM438 427h1v1h-1zM439 420h1v1h-1zM395 453h1v1h-1zM397 455h1v1h-1zM404 464h1v1h-1zM407 465h1v1h-1zM408 467h1v1h-1zM410 470h1v1h-1zM412 471h1v1h-1zM414 470h1v1h-1zM415 475h1v1h-1zM416 474h1v1h-1zM448 480h1v1h-1zM447 485h1v1h-1zM448 490h1v1h-1zM434 520h1v1h-1zM435 516h1v1h-1zM433 524h1v1h-1zM431 526h1v1h-1zM461 512h1v1h-1zM462 514h1v1h-1zM464 519h1v1h-1z"/>
<path fill="#FFA000" shape-rendering="crispEdges" d="M442 422h1v1h-1zM435 447h1v1h-1zM433 456h1v1h-1zM437 463h1v1h-1zM438 467h1v1h-1zM453 486h1v1h-1zM438 464h1v1h-1zM436 453h1v1h-1z"/>
<path fill="#FFFF00" shape-rendering="crispEdges" d="M441 426h1v1h-1zM438 442h1v1h-1zM435 459h1v1h-1zM451 482h1v1h-1zM454 490h1v1h-1zM440 434h1v1h-1zM438 438h1v1h-1zM435 457h1v1h-1zM437 460h1v1h-1z"/>
<path fill="#FF4000" shape-rendering="crispEdges" d="M436 471h1v1h-1zM437 472h1v1h-1zM435 470h1v1h-1z"/>
<path fill="#FFFFFF" shape-rendering="crispEdges" d="M437 451h1v1h-1zM438 454h1v1h-1zM439 457h1v1h-1zM444 463h1v1h-1zM446 468h1v1h-1zM448 473h1v1h-1zM452 479h1v1h-1zM455 485h1v1h-1zM447 419h1v1h-1zM445 424h1v1h-1zM442 429h1v1h-1z"/>
<path fill="#800000" shape-rendering="crispEdges" d="M392 455h1v1h-1zM393 454h1v1h-1zM394 455h1v1h-1zM395 456h1v1h-1zM396 455h1v1h-1zM397 456h1v1h-1zM398 457h1v1h-1zM395 457h1v1h-1zM396 457h1v1h-1zM394 456h1v1h-1zM396 455h1v1h-1zM393 456h1v1h-1zM403 462h1v1h-1zM404 463h1v1h-1zM404 464h1v1h-1zM404 466h1v1h-1zM405 467h1v1h-1zM406 468h1v1h-1zM407 469h1v1h-1zM408 470h1v1h-1zM409 471h1v1h-1zM410 472h1v1h-1zM410 468h1v1h-1zM411 466h1v1h-1zM411 464h1v1h-1zM411 462h1v1h-1zM411 469h1v1h-1zM412 472h1v1h-1zM413 473h1v1h-1zM414 474h1v1h-1zM415 475h1v1h-1zM413 471h1v1h-1zM414 472h1v1h-1zM415 476h1v1h-1zM416 477h1v1h-1zM417 479h1v1h-1zM418 481h1v1h-1zM417 483h1v1h-1zM409 468h1v1h-1zM408 467h1v1h-1zM405 463h1v1h-1zM407 466h1v1h-1zM412 460h1v1h-1zM413 460h1v1h-1zM411 460h1v1h-1zM446 477h1v1h-1zM447 479h1v1h-1zM446 480h1v1h-1zM447 482h1v1h-1zM445 480h1v1h-1zM447 483h1v1h-1zM439 475h1v1h-1zM440 476h1v1h-1zM439 481h1v1h-1zM440 475h1v1h-1zM370 453h1v1h-1zM369 454h1v1h-1zM369 456h1v1h-1zM370 455h1v1h-1zM362 452h1v1h-1zM363 453h1v1h-1zM432 465h1v1h-1zM433 466h1v1h-1zM434 464h1v1h-1zM431 467h1v1h-1zM433 469h1v1h-1zM417 495h1v1h-1zM418 496h1v1h-1zM421 495h1v1h-1zM422 497h1v1h-1zM423 498h1v1h-1zM416 498h1v1h-1zM421 500h1v1h-1z"/>
<path fill="#FF4000" shape-rendering="crispEdges" d="M436 471h1v1h-1zM436 472h1v1h-1zM437 473h1v1h-1zM434 467h1v1h-1z"/>
<path fill="#FFA000" shape-rendering="crispEdges" d="M437 467h1v1h-1zM438 468h1v1h-1zM439 469h1v1h-1zM408 469h1v1h-1zM414 476h1v1h-1zM357 453h1v1h-1zM358 454h1v1h-1z"/>
<path fill="#800000" shape-rendering="crispEdges" d="M130 516h1v1h-1zM131 517h1v1h-1zM133 516h1v1h-1zM131 519h1v1h-1zM132 519h1v1h-1zM134 520h1v1h-1zM132 522h1v1h-1zM134 522h1v1h-1zM136 523h1v1h-1zM133 525h1v1h-1zM135 526h1v1h-1zM137 526h1v1h-1zM136 528h1v1h-1zM138 529h1v1h-1zM138 530h1v1h-1zM134 514h1v1h-1zM129 514h1v1h-1zM132 510h1v1h-1zM132 509h1v1h-1zM134 497h1v1h-1zM136 503h1v1h-1zM139 502h1v1h-1zM141 503h1v1h-1zM137 534h1v1h-1zM139 536h1v1h-1zM141 534h1v1h-1zM142 532h1v1h-1zM138 537h1v1h-1zM140 539h1v1h-1zM142 537h1v1h-1zM139 540h1v1h-1zM135 542h1v1h-1zM143 489h1v1h-1zM146 490h1v1h-1zM148 489h1v1h-1zM150 487h1v1h-1zM149 485h1v1h-1zM152 484h1v1h-1zM153 484h1v1h-1zM154 486h1v1h-1zM156 487h1v1h-1zM152 482h1v1h-1zM157 481h1v1h-1zM159 480h1v1h-1zM161 480h1v1h-1zM163 479h1v1h-1zM166 480h1v1h-1zM165 483h1v1h-1zM175 478h1v1h-1zM176 477h1v1h-1zM178 474h1v1h-1zM179 473h1v1h-1zM183 469h1v1h-1zM184 470h1v1h-1zM181 462h1v1h-1zM182 462h1v1h-1zM188 457h1v1h-1zM189 459h1v1h-1zM190 460h1v1h-1zM191 462h1v1h-1zM192 463h1v1h-1zM195 463h1v1h-1zM191 465h1v1h-1zM207 453h1v1h-1zM209 453h1v1h-1zM211 453h1v1h-1zM214 453h1v1h-1zM216 453h1v1h-1zM223 448h1v1h-1zM224 451h1v1h-1zM229 451h1v1h-1zM221 452h1v1h-1zM219 456h1v1h-1zM231 455h1v1h-1zM234 454h1v1h-1zM236 456h1v1h-1zM239 456h1v1h-1zM237 459h1v1h-1z"/>
<path fill="#FFA000" shape-rendering="crispEdges" d="M177 477h1v1h-1zM179 476h1v1h-1zM186 471h1v1h-1zM202 462h1v1h-1zM205 458h1v1h-1zM210 457h1v1h-1zM212 459h1v1h-1zM131 512h1v1h-1zM132 543h1v1h-1z"/>
<path fill="#FFFF00" shape-rendering="crispEdges" d="M184 464h1v1h-1zM188 463h1v1h-1zM208 459h1v1h-1zM215 459h1v1h-1zM219 460h1v1h-1zM204 460h1v1h-1zM211 459h1v1h-1zM132 510h1v1h-1zM139 516h1v1h-1z"/>
<path fill="#800000" shape-rendering="crispEdges" d="M131 510h1v1h-1zM133 514h1v1h-1zM130 517h1v1h-1zM134 518h1v1h-1zM132 520h1v1h-1zM135 522h1v1h-1zM133 524h1v1h-1zM136 526h1v1h-1zM134 528h1v1h-1zM138 529h1v1h-1zM139 533h1v1h-1zM140 536h1v1h-1zM141 538h1v1h-1zM139 540h1v1h-1zM142 533h1v1h-1zM138 537h1v1h-1zM136 519h1v1h-1zM130 514h1v1h-1zM140 527h1v1h-1zM140 530h1v1h-1zM134 497h1v1h-1zM136 503h1v1h-1z"/>
<path fill="#FFA000" shape-rendering="crispEdges" d="M135 544h1v1h-1zM138 547h1v1h-1z"/>
<path fill="#FFFF00" shape-rendering="crispEdges" d="M136 546h1v1h-1zM134 548h1v1h-1zM140 499h1v1h-1zM142 494h1v1h-1z"/>
<path fill="#80FF80" shape-rendering="crispEdges" d="M136 549h1v1h-1zM142 529h1v1h-1z"/>
<path fill="#800000" shape-rendering="crispEdges" d="M302 441h1v1h-1zM303 442h1v1h-1zM305 447h1v1h-1zM306 449h1v1h-1zM308 449h1v1h-1zM326 449h1v1h-1zM355 452h1v1h-1zM362 450h1v1h-1zM362 452h1v1h-1zM361 454h1v1h-1zM364 456h1v1h-1zM366 457h1v1h-1zM369 456h1v1h-1zM370 453h1v1h-1zM370 454h1v1h-1zM369 458h1v1h-1zM372 459h1v1h-1zM375 457h1v1h-1zM377 460h1v1h-1zM382 459h1v1h-1zM379 459h1v1h-1zM283 449h1v1h-1zM284 451h1v1h-1zM288 452h1v1h-1zM297 449h1v1h-1zM294 451h1v1h-1z"/>
<path fill="#FF7000" shape-rendering="crispEdges" d="M306 448h1v1h-1zM307 450h1v1h-1zM331 447h1v1h-1zM358 453h1v1h-1z"/>
</g>
<rect x="129.25" y="162" width="711.25" height="698.5" fill="none" stroke="#000" stroke-width="1"/>
<g class="ax">
<line x1="112.5" y1="177.25" x2="129.25" y2="177.25"/>
<text x="72.7" y="185.75" text-anchor="middle">45°N</text>
<line x1="112.5" y1="270.89" x2="129.25" y2="270.89"/>
<text x="72.7" y="279.39" text-anchor="middle">40°N</text>
<line x1="112.5" y1="364.53" x2="129.25" y2="364.53"/>
<text x="72.7" y="373.03" text-anchor="middle">35°N</text>
<line x1="112.5" y1="458.17" x2="129.25" y2="458.17"/>
<text x="72.7" y="466.67" text-anchor="middle">30°N</text>
<line x1="112.5" y1="551.81" x2="129.25" y2="551.81"/>
<text x="72.7" y="560.31" text-anchor="middle">25°N</text>
<line x1="112.5" y1="645.45" x2="129.25" y2="645.45"/>
<text x="72.7" y="653.95" text-anchor="middle">20°N</text>
<line x1="112.5" y1="739.09" x2="129.25" y2="739.09"/>
<text x="72.7" y="747.59" text-anchor="middle">15°N</text>
<line x1="112.5" y1="832.73" x2="129.25" y2="832.73"/>
<text x="72.7" y="841.23" text-anchor="middle">10°N</text>
<line x1="185.50" y1="860.5" x2="185.50" y2="877"/>
<text x="185.50" y="910.3" text-anchor="middle">95°W</text>
<line x1="279.14" y1="860.5" x2="279.14" y2="877"/>
<text x="279.14" y="910.3" text-anchor="middle">90°W</text>
<line x1="372.78" y1="860.5" x2="372.78" y2="877"/>
<text x="372.78" y="910.3" text-anchor="middle">85°W</text>
<line x1="466.42" y1="860.5" x2="466.42" y2="877"/>
<text x="466.42" y="910.3" text-anchor="middle">80°W</text>
<line x1="560.06" y1="860.5" x2="560.06" y2="877"/>
<text x="560.06" y="910.3" text-anchor="middle">75°W</text>
<line x1="653.70" y1="860.5" x2="653.70" y2="877"/>
<text x="653.70" y="910.3" text-anchor="middle">70°W</text>
<line x1="747.34" y1="860.5" x2="747.34" y2="877"/>
<text x="747.34" y="910.3" text-anchor="middle">65°W</text>
</g>
<text x="163.4" y="133.4" font-size="25.5">2021080920</text>
<text x="657.1" y="128.6" font-size="25.2">Elevation (m)</text>
<text x="484.5" y="945" font-size="23.2" text-anchor="middle">Longitude</text>
<text transform="translate(41.2,511.25) rotate(-90)" font-size="23.2" text-anchor="middle">Latitude</text>
<g>
<rect x="878.5" y="822.15" width="42.5" height="31.10" fill="#0000AA" stroke="#000" stroke-width="0.75"/>
<rect x="878.5" y="791.05" width="42.5" height="31.10" fill="#0000D5" stroke="#000" stroke-width="0.75"/>
<rect x="878.5" y="759.94" width="42.5" height="31.10" fill="#0000FF" stroke="#000" stroke-width="0.75"/>
<rect x="878.5" y="728.84" width="42.5" height="31.10" fill="#0033FF" stroke="#000" stroke-width="0.75"/>
<rect x="878.5" y="697.74" width="42.5" height="31.10" fill="#0066FF" stroke="#000" stroke-width="0.75"/>
<rect x="878.5" y="666.64" width="42.5" height="31.10" fill="#0099FF" stroke="#000" stroke-width="0.75"/>
<rect x="878.5" y="635.53" width="42.5" height="31.10" fill="#00CCFF" stroke="#000" stroke-width="0.75"/>
<rect x="878.5" y="604.43" width="42.5" height="31.10" fill="#00FFFF" stroke="#000" stroke-width="0.75"/>
<rect x="878.5" y="573.33" width="42.5" height="31.10" fill="#2AFFD5" stroke="#000" stroke-width="0.75"/>
<rect x="878.5" y="542.23" width="42.5" height="31.10" fill="#55FFAA" stroke="#000" stroke-width="0.75"/>
<rect x="878.5" y="511.12" width="42.5" height="31.10" fill="#80FF80" stroke="#000" stroke-width="0.75"/>
<rect x="878.5" y="480.02" width="42.5" height="31.10" fill="#AAFF55" stroke="#000" stroke-width="0.75"/>
<rect x="878.5" y="448.92" width="42.5" height="31.10" fill="#D5FF2A" stroke="#000" stroke-width="0.75"/>
<rect x="878.5" y="417.82" width="42.5" height="31.10" fill="#FFFF00" stroke="#000" stroke-width="0.75"/>
<rect x="878.5" y="386.72" width="42.5" height="31.10" fill="#FFD000" stroke="#000" stroke-width="0.75"/>
<rect x="878.5" y="355.61" width="42.5" height="31.10" fill="#FFA000" stroke="#000" stroke-width="0.75"/>
<rect x="878.5" y="324.51" width="42.5" height="31.10" fill="#FF7000" stroke="#000" stroke-width="0.75"/>
<rect x="878.5" y="293.41" width="42.5" height="31.10" fill="#FF4000" stroke="#000" stroke-width="0.75"/>
<rect x="878.5" y="262.31" width="42.5" height="31.10" fill="#FF1000" stroke="#000" stroke-width="0.75"/>
<rect x="878.5" y="231.20" width="42.5" height="31.10" fill="#E00000" stroke="#000" stroke-width="0.75"/>
<rect x="878.5" y="200.10" width="42.5" height="31.10" fill="#B00000" stroke="#000" stroke-width="0.75"/>
<rect x="878.5" y="169.00" width="42.5" height="31.10" fill="#800000" stroke="#000" stroke-width="0.75"/>
<text x="959.5" y="833.65" font-size="31.8" text-anchor="middle">-2</text>
<text x="959.5" y="771.44" font-size="31.8" text-anchor="middle">-1.6</text>
<text x="959.5" y="709.24" font-size="31.8" text-anchor="middle">-1.2</text>
<text x="959.5" y="647.03" font-size="31.8" text-anchor="middle">-0.8</text>
<text x="959.5" y="584.83" font-size="31.8" text-anchor="middle">-0.4</text>
<text x="959.5" y="522.62" font-size="31.8" text-anchor="middle">0</text>
<text x="959.5" y="460.42" font-size="31.8" text-anchor="middle">0.4</text>
<text x="959.5" y="398.22" font-size="31.8" text-anchor="middle">0.8</text>
<text x="959.5" y="336.01" font-size="31.8" text-anchor="middle">1.2</text>
<text x="959.5" y="273.81" font-size="31.8" text-anchor="middle">1.6</text>
<text x="959.5" y="211.60" font-size="31.8" text-anchor="middle">2</text>
</g>
</svg>
</body></html>
